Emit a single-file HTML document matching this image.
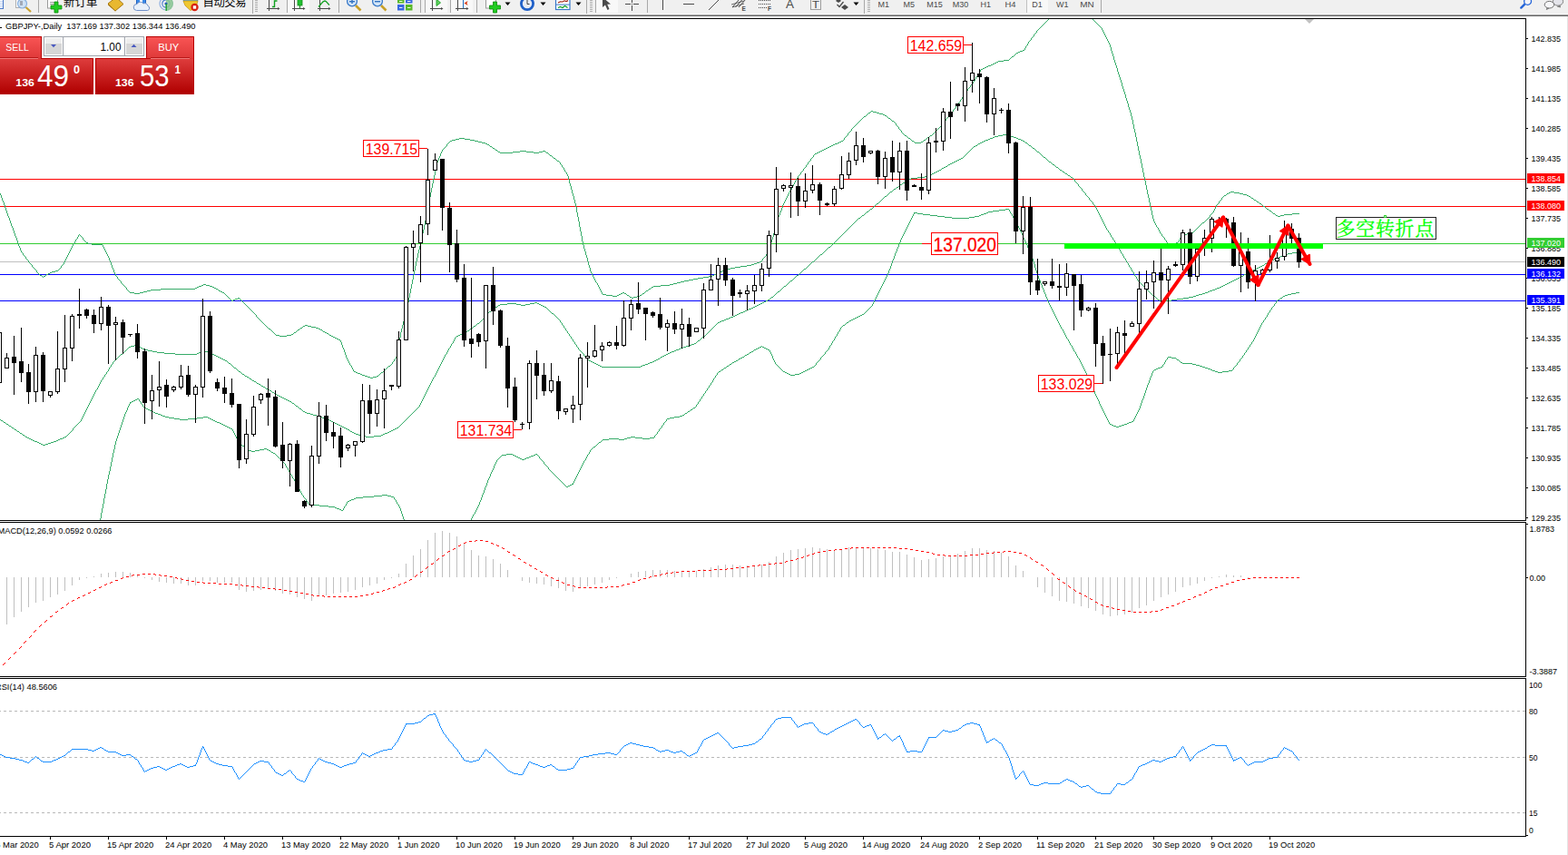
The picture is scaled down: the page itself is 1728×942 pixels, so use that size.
<!DOCTYPE html>
<html><head><meta charset="utf-8"><title>GBPJPY Daily</title>
<style>
html,body{margin:0;padding:0;background:#fff;}
body{width:1728px;height:942px;overflow:hidden;position:relative;font-family:"Liberation Sans",sans-serif;}
#tb{position:absolute;left:0;top:0;width:1728px;height:15px;background:#f0f0f0;}
#tb1{position:absolute;left:0;top:15px;width:1728px;height:1px;background:#f8f8f8;}
#tb2{position:absolute;left:0;top:16px;width:1728px;height:1px;background:#a0a0a0;}
#tb3{position:absolute;left:0;top:17px;width:1728px;height:1px;background:#696969;}
</style></head><body>
<div id="tb"></div><div id="tb1"></div><div id="tb2"></div><div id="tb3"></div>
<svg width="1728" height="942" viewBox="0 0 1728 942" style="position:absolute;left:0;top:0" font-family="Liberation Sans, sans-serif">
<defs>
<clipPath id="cm"><rect x="0" y="21" width="1681" height="552"/></clipPath>
<clipPath id="cd"><rect x="0" y="576" width="1681" height="169"/></clipPath>
<clipPath id="ctb"><rect x="0" y="0" width="1728" height="15"/></clipPath>
<clipPath id="cr"><rect x="0" y="749" width="1681" height="172"/></clipPath>
<linearGradient id="gs" x1="0" y1="0" x2="0" y2="1"><stop offset="0" stop-color="#f85454"/><stop offset="1" stop-color="#de3838"/></linearGradient>
<linearGradient id="gb" x1="0" y1="0" x2="0" y2="1"><stop offset="0" stop-color="#de3c3c"/><stop offset="1" stop-color="#b00000"/></linearGradient>
<linearGradient id="gg" x1="0" y1="0" x2="0" y2="1"><stop offset="0" stop-color="#f2f2f2"/><stop offset="0.5" stop-color="#dcdcdc"/><stop offset="1" stop-color="#c4c4c4"/></linearGradient>
</defs>
<rect x="0" y="20" width="1682" height="1" fill="#000" />
<rect x="1681" y="20" width="1" height="554" fill="#000" />
<rect x="0" y="573" width="1682" height="1" fill="#000" />
<rect x="0" y="575" width="1682" height="1" fill="#000" />
<rect x="1681" y="575" width="1" height="171" fill="#000" />
<rect x="0" y="745" width="1682" height="1" fill="#000" />
<rect x="0" y="747" width="1682" height="1" fill="#000" />
<rect x="1681" y="747" width="1" height="175" fill="#000" />
<rect x="0" y="921" width="1682" height="1" fill="#000" />
<g shape-rendering="crispEdges">
<rect x="0" y="197" width="1681" height="1" fill="#ff0000" />
<rect x="0" y="227" width="1681" height="1" fill="#ff0000" />
<rect x="0" y="268" width="1681" height="1" fill="#32cd32" />
<rect x="0" y="288" width="1681" height="1" fill="#c0c0c0" />
<rect x="0" y="302" width="1681" height="1" fill="#0000ff" />
<rect x="0" y="331" width="1681" height="1" fill="#0000ff" />
</g>
<path d="M0.5 213v2M1.5 215v3M2.5 218v3M3.5 221v2M4.5 223v3M5.5 226v3M6.5 229v3M7.5 232v3M8.5 235v3M9.5 238v2M10.5 240v3M11.5 243v3M12.5 246v3M13.5 249v2M14.5 251v3M15.5 254v3M16.5 257v3M17.5 260v2M18.5 262v3M19.5 265v3M20.5 268v3M21.5 271v2M22.5 273v3M23.5 276v2M24 278.5h1M25.5 279v2M26 281.5h1M27 282.5h1M28.5 283v2M29 285.5h1M30 286.5h1M31.5 287v2M32 289.5h1M33 290.5h1M34 291.5h1M35.5 292v2M36 294.5h1M37 295.5h1M38 296.5h1M39 297.5h1M40.5 298v2M41 300.5h1M42 301.5h1M43 302.5h1M44 303.5h2M46 304.5h1M47 305.5h1M48 304.5h2M50 303.5h1M51 302.5h2M53 301.5h2M55 300.5h2M57 299.5h4M61 298.5h3M64 297.5h1M65 296.5h1M66 295.5h1M67.5 293v2M68 292.5h1M69 291.5h1M70.5 289v2M71.5 287v2M72.5 285v2M73.5 283v2M74.5 281v2M75.5 279v2M76.5 277v2M77.5 275v2M78.5 273v2M79.5 271v2M80.5 269v2M81 268.5h1M82.5 266v2M83.5 264v2M84 263.5h1M85.5 261v2M86.5 259v2M87 258.5h1M88 259.5h1M89 260.5h1M90 261.5h1M91.5 262v2M92 264.5h1M93 265.5h1M94 266.5h1M95 267.5h2M97 268.5h4M101 269.5h12M113.5 270v2M114.5 272v2M115.5 274v2M116.5 276v2M117.5 278v2M118.5 280v2M119.5 282v2M120.5 284v3M121.5 287v2M122.5 289v3M123.5 292v3M124.5 295v2M125.5 297v3M126.5 300v2M127.5 302v2M128 304.5h1M129.5 305v2M130 307.5h1M131 308.5h1M132 309.5h1M133.5 310v2M134 312.5h1M135 313.5h1M136 314.5h1M137 315.5h1M138 316.5h1M139.5 317v2M140 319.5h1M141 320.5h1M142 321.5h1M143 322.5h5M148 323.5h6M154 322.5h4M158 321.5h4M162 320.5h4M166 319.5h11M177 318.5h38M215 317.5h2M217 316.5h2M219 315.5h3M222 314.5h2M224 313.5h3M227 314.5h4M231 315.5h3M234 316.5h2M236 317.5h2M238 318.5h2M240 319.5h1M241 320.5h2M243 321.5h2M245 322.5h2M247 323.5h1M248 324.5h1M249 325.5h1M250 326.5h1M251 327.5h1M252 328.5h1M253 329.5h1M254 330.5h1M255 331.5h2M257 330.5h2M259 329.5h3M262 328.5h2M264 329.5h1M265 330.5h1M266 331.5h1M267 332.5h1M268 333.5h1M269 334.5h1M270 335.5h1M271 336.5h1M272 337.5h1M273 338.5h1M274 339.5h1M275 340.5h1M276 341.5h1M277 342.5h1M278 343.5h1M279 344.5h1M280 345.5h1M281 346.5h1M282.5 347v2M283 349.5h1M284 350.5h1M285 351.5h1M286 352.5h1M287 353.5h1M288 354.5h1M289 355.5h1M290 356.5h1M291 357.5h1M292 358.5h1M293 359.5h1M294 360.5h1M295 361.5h1M296 362.5h2M298 363.5h1M299 364.5h1M300 365.5h1M301 366.5h1M302 367.5h1M303 368.5h1M304 369.5h4M308 370.5h8M316 369.5h5M321 368.5h2M323 367.5h1M324 366.5h2M326 365.5h1M327 364.5h1M328 363.5h2M330 362.5h1M331 361.5h2M333 360.5h1M334 359.5h2M336 358.5h3M339 359.5h4M343 360.5h5M348 361.5h3M351 362.5h2M353 363.5h2M355 364.5h1M356 365.5h2M358 366.5h2M360 367.5h2M362 368.5h1M363 369.5h2M365 370.5h2M367 371.5h2M369 372.5h2M371 373.5h2M373 374.5h2M375.5 375v2M376.5 377v3M377.5 380v3M378.5 383v2M379.5 385v3M380.5 388v3M381.5 391v3M382.5 394v2M383.5 396v2M384.5 398v2M385.5 400v2M386 402.5h1M387.5 403v2M388.5 405v2M389.5 407v2M390 409.5h2M392 410.5h2M394 411.5h3M397 412.5h2M399 413.5h3M402 414.5h3M405 415.5h3M408 416.5h3M411 415.5h4M415 414.5h2M417 413.5h1M418 412.5h1M419 411.5h1M420 410.5h2M422 409.5h1M423 408.5h1M424 407.5h1M425 406.5h1M426 405.5h1M427 404.5h1M428 403.5h2M430 402.5h1M431 401.5h1M432.5 399v2M433 398.5h1M434.5 396v2M435 395.5h1M436.5 393v2M437.5 390v3M438.5 384v6M439.5 378v6M440.5 372v6M441.5 366v6M442.5 362v4M443.5 358v4M444.5 354v4M445.5 350v4M446.5 345v5M447.5 341v4M448.5 337v4M449.5 333v4M450.5 328v5M451.5 323v5M452.5 318v5M453.5 313v5M454.5 308v5M455.5 303v5M456.5 298v5M457.5 293v5M458.5 288v5M459.5 284v4M460.5 279v5M461.5 275v4M462.5 271v4M463.5 266v5M464.5 262v4M465.5 257v5M466.5 253v4M467.5 248v5M468.5 243v5M469.5 238v5M470.5 233v5M471.5 228v5M472.5 222v6M473.5 217v5M474.5 212v5M475.5 207v5M476.5 202v5M477.5 197v5M478.5 193v4M479.5 188v5M480.5 183v5M481.5 179v4M482.5 177v2M483.5 174v3M484.5 172v2M485.5 169v3M486.5 167v2M487.5 165v2M488 164.5h1M489 163.5h1M490 162.5h1M491 161.5h1M492.5 159v2M493 158.5h1M494 157.5h1M495 156.5h1M496 155.5h2M498 154.5h4M502 153.5h4M506 152.5h6M512 153.5h6M518 154.5h5M523 155.5h4M527 156.5h4M531 157.5h4M535 158.5h2M537 159.5h2M539 160.5h1M540 161.5h2M542 162.5h1M543 163.5h2M545 164.5h1M546 165.5h2M548 166.5h1M549 167.5h2M551 168.5h14M565 167.5h8M573 166.5h7M580 167.5h8M588 168.5h6M594 167.5h4M598 166.5h3M601 167.5h1M602 168.5h2M604 169.5h1M605 170.5h1M606 171.5h2M608 172.5h1M609 173.5h1M610 174.5h2M612 175.5h1M613 176.5h1M614 177.5h2M616 178.5h1M617.5 179v2M618 181.5h1M619.5 182v2M620 184.5h1M621.5 185v2M622.5 187v2M623 189.5h1M624.5 190v2M625.5 192v2M626.5 194v4M627.5 198v4M628.5 202v3M629.5 205v4M630.5 209v4M631.5 213v3M632.5 216v4M633.5 220v4M634.5 224v4M635.5 228v6M636.5 234v5M637.5 239v5M638.5 244v6M639.5 250v5M640.5 255v5M641.5 260v6M642.5 266v4M643.5 270v4M644.5 274v3M645.5 277v4M646.5 281v3M647.5 284v4M648.5 288v4M649.5 292v3M650.5 295v4M651.5 299v2M652.5 301v2M653.5 303v2M654.5 305v2M655.5 307v2M656.5 309v2M657 311.5h1M658.5 312v2M659.5 314v2M660.5 316v2M661.5 318v2M662.5 320v2M663.5 322v2M664 324.5h4M668 325.5h7M675 326.5h5M680 325.5h2M682 324.5h2M684 323.5h2M686 322.5h2M688 323.5h2M690 324.5h1M691 325.5h2M693 326.5h1M694 327.5h2M696 328.5h2M698 327.5h4M702 326.5h3M705 325.5h2M707 324.5h1M708 323.5h2M710 322.5h1M711 321.5h1M712 320.5h2M714 319.5h1M715 318.5h2M717 317.5h1M718 316.5h2M720 315.5h8M728 314.5h10M738 313.5h4M742 312.5h4M746 311.5h4M750 310.5h4M754 309.5h5M759 308.5h5M764 307.5h5M769 306.5h6M775 305.5h6M781 304.5h4M785 303.5h2M787 302.5h2M789 301.5h2M791 300.5h2M793 299.5h3M796 298.5h3M799 297.5h3M802 296.5h3M805 295.5h5M810 294.5h6M816 293.5h7M823 292.5h5M828 291.5h3M831 290.5h3M834 289.5h3M837 288.5h2M839 287.5h1M840.5 285v2M841 284.5h1M842 283.5h1M843 282.5h1M844.5 280v2M845 279.5h1M846.5 277v2M847.5 274v3M848.5 271v3M849.5 267v4M850.5 264v3M851.5 261v3M852.5 257v4M853.5 253v4M854.5 250v3M855.5 246v4M856.5 242v4M857.5 239v3M858.5 237v2M859.5 234v3M860.5 232v2M861.5 229v3M862.5 226v3M863.5 224v2M864.5 222v2M865.5 220v2M866.5 218v2M867.5 216v2M868.5 214v2M869.5 212v2M870.5 210v2M871 209.5h1M872.5 207v2M873.5 205v2M874.5 203v2M875.5 201v2M876.5 199v2M877.5 197v2M878 196.5h1M879.5 194v2M880 193.5h1M881 192.5h1M882.5 190v2M883 189.5h1M884 188.5h1M885.5 186v2M886 185.5h1M887 184.5h1M888.5 182v2M889 181.5h1M890.5 179v2M891 178.5h1M892 177.5h1M893.5 175v2M894 174.5h1M895 173.5h1M896.5 171v2M897 170.5h1M898 169.5h2M900 168.5h2M902 167.5h2M904 166.5h2M906 165.5h2M908 164.5h2M910 163.5h2M912 162.5h2M914 161.5h2M916 160.5h2M918 159.5h2M920 158.5h3M923 157.5h2M925 156.5h2M927 155.5h2M929 154.5h1M930.5 152v2M931 151.5h1M932 150.5h1M933 149.5h1M934.5 147v2M935 146.5h1M936 145.5h1M937 144.5h1M938.5 142v2M939 141.5h1M940 140.5h1M941 139.5h1M942 138.5h1M943 137.5h1M944 136.5h1M945 135.5h1M946 134.5h1M947 133.5h1M948 132.5h1M949 131.5h1M950 130.5h1M951 129.5h1M952 128.5h2M954 127.5h1M955 126.5h1M956 125.5h1M957 124.5h2M959 123.5h1M960 122.5h2M962 123.5h4M966 124.5h3M969 125.5h4M973 126.5h2M975 127.5h2M977 128.5h1M978 129.5h1M979 130.5h2M981 131.5h1M982 132.5h1M983 133.5h2M985 134.5h1M986 135.5h1M987.5 136v2M988 138.5h1M989 139.5h1M990.5 140v2M991 142.5h1M992 143.5h1M993.5 144v2M994 146.5h1M995 147.5h1M996 148.5h1M997 149.5h2M999 150.5h1M1000 151.5h1M1001 152.5h2M1003 153.5h1M1004 154.5h1M1005 155.5h2M1007 156.5h1M1008 157.5h7M1015 156.5h2M1017 155.5h1M1018 154.5h2M1020 153.5h1M1021 152.5h1M1022 151.5h2M1024 150.5h1M1025 149.5h2M1027 148.5h1M1028 147.5h1M1029 146.5h1M1030 145.5h1M1031 144.5h1M1032 143.5h1M1033 142.5h1M1034 141.5h1M1035 140.5h1M1036 139.5h1M1037 138.5h1M1038.5 136v2M1039 135.5h1M1040 134.5h1M1041 133.5h1M1042.5 131v2M1043 130.5h1M1044 129.5h1M1045 128.5h1M1046.5 126v2M1047 125.5h1M1048 124.5h1M1049 123.5h1M1050.5 121v2M1051 120.5h1M1052 119.5h1M1053.5 117v2M1054 116.5h1M1055 115.5h1M1056.5 113v2M1057 112.5h1M1058.5 110v2M1059 109.5h1M1060.5 107v2M1061.5 105v2M1062 104.5h1M1063.5 102v2M1064 101.5h1M1065 100.5h1M1066.5 98v2M1067 97.5h1M1068 96.5h1M1069.5 94v2M1070 93.5h1M1071 92.5h1M1072.5 90v2M1073 89.5h1M1074.5 87v2M1075.5 85v2M1076 84.5h1M1077.5 82v2M1078 81.5h1M1079.5 79v2M1080.5 77v2M1081 76.5h2M1083 75.5h2M1085 74.5h2M1087 73.5h2M1089 72.5h3M1092 71.5h2M1094 70.5h2M1096 69.5h2M1098 68.5h2M1100 67.5h6M1106 66.5h6M1112 65.5h1M1113 64.5h1M1114 63.5h1M1115 62.5h2M1117 61.5h1M1118 60.5h1M1119 59.5h1M1120 58.5h2M1122 57.5h2M1124 56.5h3M1127 55.5h2M1129.5 53v2M1130.5 51v2M1131 50.5h1M1132.5 48v2M1133.5 46v2M1134 45.5h1M1135 44.5h1M1136.5 42v2M1137 41.5h1M1138 40.5h1M1139.5 38v2M1140 37.5h1M1141 36.5h1M1142.5 34v2M1143 33.5h1M1144 32.5h1M1145 31.5h1M1146 30.5h1M1147 29.5h1M1148 28.5h1M1149 27.5h1M1150 26.5h1M1151 25.5h1M1152 24.5h1M1153 23.5h1M1154 22.5h1M1155 21.5h1M1204 21.5h1M1205 22.5h1M1206 23.5h1M1207 24.5h1M1208 25.5h1M1209 26.5h1M1210 27.5h1M1211 28.5h1M1212 29.5h1M1213 30.5h1M1214.5 31v2M1215.5 33v2M1216.5 35v2M1217.5 37v2M1218.5 39v2M1219.5 41v2M1220.5 43v2M1221.5 45v2M1222.5 47v2M1223.5 49v3M1224.5 52v4M1225.5 56v3M1226.5 59v3M1227.5 62v4M1228.5 66v3M1229.5 69v3M1230.5 72v3M1231.5 75v4M1232.5 79v3M1233.5 82v3M1234.5 85v3M1235.5 88v3M1236.5 91v4M1237.5 95v3M1238.5 98v3M1239.5 101v3M1240.5 104v4M1241.5 108v3M1242.5 111v3M1243.5 114v4M1244.5 118v3M1245.5 121v3M1246.5 124v4M1247.5 128v4M1248.5 132v5M1249.5 137v5M1250.5 142v4M1251.5 146v5M1252.5 151v5M1253.5 156v5M1254.5 161v5M1255.5 166v5M1256.5 171v4M1257.5 175v5M1258.5 180v5M1259.5 185v5M1260.5 190v5M1261.5 195v4M1262.5 199v5M1263.5 204v5M1264.5 209v5M1265.5 214v4M1266.5 218v5M1267.5 223v5M1268.5 228v4M1269.5 232v5M1270.5 237v4M1271.5 241v3M1272.5 244v2M1273.5 246v2M1274.5 248v2M1275 250.5h1M1276.5 251v2M1277.5 253v2M1278.5 255v2M1279 257.5h1M1280.5 258v2M1281 260.5h1M1282 261.5h1M1283.5 262v2M1284 264.5h1M1285.5 265v2M1286 267.5h1M1287 268.5h2M1289 269.5h2M1291 270.5h1M1292 269.5h2M1294 268.5h2M1296 267.5h2M1298 266.5h1M1299.5 264v2M1300.5 262v2M1301 261.5h2M1303 260.5h1M1304 259.5h2M1306 258.5h2M1308 257.5h4M1312 256.5h3M1315 255.5h1M1316 254.5h1M1317 253.5h1M1318 252.5h1M1319 251.5h1M1320 250.5h1M1321 249.5h1M1322 248.5h1M1323 247.5h1M1324 246.5h1M1325 245.5h2M1327 244.5h1M1328 243.5h1M1329 242.5h1M1330 241.5h1M1331 240.5h1M1332 239.5h1M1333.5 237v2M1334 236.5h1M1335 235.5h1M1336 234.5h1M1337.5 232v2M1338.5 230v2M1339.5 228v2M1340.5 226v2M1341 225.5h1M1342 224.5h1M1343.5 222v2M1344 221.5h1M1345 220.5h1M1346.5 218v2M1347 217.5h1M1348 216.5h1M1349 215.5h2M1351 214.5h1M1352 213.5h2M1354 212.5h2M1356 211.5h4M1360 212.5h6M1366 213.5h4M1370 214.5h4M1374 215.5h2M1376 216.5h2M1378 217.5h1M1379 218.5h2M1381 219.5h1M1382 220.5h2M1384 221.5h1M1385 222.5h2M1387 223.5h1M1388 224.5h2M1390 225.5h1M1391 226.5h1M1392 227.5h2M1394 228.5h1M1395 229.5h1M1396 230.5h2M1398 231.5h1M1399 232.5h2M1401 233.5h1M1402 234.5h1M1403 235.5h2M1405 236.5h1M1406 237.5h2M1408 238.5h3M1411 237.5h4M1415 236.5h9M1424 235.5h8" fill="none" stroke="#35ab68" stroke-width="1" shape-rendering="crispEdges"/>
<path d="M0 462.5h1M1 463.5h2M3 464.5h1M4 465.5h2M6 466.5h1M7 467.5h2M9 468.5h1M10 469.5h2M12 470.5h1M13 471.5h2M15 472.5h1M16 473.5h2M18 474.5h1M19 475.5h2M21 476.5h1M22 477.5h2M24 478.5h1M25 479.5h2M27 480.5h1M28 481.5h2M30 482.5h2M32 483.5h2M34 484.5h2M36 485.5h2M38 486.5h3M41 487.5h2M43 488.5h2M45 489.5h2M47 490.5h3M50 489.5h3M53 488.5h3M56 487.5h3M59 486.5h3M62 485.5h2M64 484.5h2M66 483.5h3M69 482.5h2M71 481.5h2M73 480.5h1M74 479.5h1M75 478.5h1M76 477.5h1M77 476.5h1M78 475.5h1M79 474.5h1M80.5 472v2M81 471.5h1M82 470.5h1M83 469.5h1M84 468.5h1M85 467.5h1M86 466.5h1M87 465.5h1M88 464.5h1M89.5 462v2M90.5 460v2M91.5 458v2M92.5 456v2M93.5 454v2M94.5 452v2M95.5 450v2M96.5 448v2M97.5 446v2M98.5 444v2M99.5 442v2M100.5 440v2M101.5 438v2M102.5 436v2M103.5 434v2M104.5 432v2M105.5 430v2M106 429.5h1M107.5 427v2M108.5 425v2M109.5 423v2M110.5 421v2M111.5 419v2M112 418.5h1M113.5 416v2M114 415.5h1M115.5 413v2M116 412.5h1M117.5 410v2M118 409.5h1M119.5 407v2M120.5 405v2M121 404.5h1M122.5 402v2M123 401.5h1M124.5 399v2M125 398.5h1M126 397.5h1M127 396.5h1M128 395.5h1M129 394.5h1M130 393.5h1M131 392.5h1M132 391.5h1M133 390.5h2M135 389.5h1M136 388.5h1M137 387.5h1M138 386.5h1M139 385.5h1M140 384.5h1M141 383.5h1M142 382.5h2M144 381.5h4M148 380.5h3M151 381.5h2M153 382.5h2M155 383.5h2M157 384.5h2M159 385.5h4M163 386.5h5M168 387.5h5M173 388.5h8M181 389.5h12M193 390.5h24M217 389.5h2M219 388.5h2M221 387.5h2M223 386.5h3M226 387.5h3M229 388.5h2M231 389.5h3M234 390.5h2M236 391.5h2M238 392.5h2M240 393.5h2M242 394.5h2M244 395.5h2M246 396.5h2M248 397.5h2M250 398.5h1M251 399.5h1M252 400.5h2M254 401.5h1M255 402.5h1M256 403.5h1M257 404.5h1M258 405.5h2M260 406.5h1M261 407.5h1M262 408.5h1M263 409.5h2M265 410.5h1M266 411.5h1M267 412.5h2M269 413.5h1M270 414.5h2M272 415.5h2M274 416.5h1M275 417.5h2M277 418.5h1M278 419.5h2M280 420.5h2M282 421.5h1M283 422.5h2M285 423.5h2M287 424.5h1M288 425.5h2M290 426.5h2M292 427.5h1M293 428.5h2M295 429.5h2M297 430.5h2M299 431.5h1M300 432.5h2M302 433.5h2M304 434.5h1M305 435.5h2M307 436.5h2M309 437.5h2M311 438.5h2M313 439.5h2M315 440.5h2M317 441.5h2M319 442.5h2M321 443.5h1M322 444.5h2M324 445.5h1M325 446.5h1M326 447.5h2M328 448.5h1M329 449.5h1M330 450.5h2M332 451.5h1M333 452.5h1M334 453.5h2M336 454.5h2M338 455.5h4M342 456.5h3M345 457.5h4M349 458.5h3M352 459.5h3M355 460.5h3M358 461.5h3M361 462.5h2M363 463.5h2M365 464.5h2M367 465.5h2M369 466.5h2M371 467.5h2M373 468.5h2M375 469.5h2M377 470.5h2M379 471.5h2M381 472.5h2M383 473.5h2M385 474.5h1M386 475.5h2M388 476.5h2M390 477.5h2M392 478.5h3M395 479.5h4M399 480.5h4M403 481.5h9M412 480.5h8M420 479.5h2M422 478.5h2M424 477.5h3M427 476.5h2M429 475.5h2M431 474.5h2M433 473.5h2M435 472.5h2M437 471.5h2M439 470.5h1M440 469.5h1M441 468.5h1M442 467.5h1M443 466.5h1M444 465.5h1M445 464.5h1M446 463.5h1M447 462.5h1M448 461.5h1M449 460.5h1M450 459.5h1M451 458.5h1M452 457.5h1M453 456.5h1M454 455.5h1M455 454.5h1M456 453.5h1M457 452.5h1M458 451.5h1M459 450.5h1M460 449.5h1M461 448.5h1M462.5 446v2M463.5 444v2M464.5 442v2M465.5 440v2M466.5 438v2M467.5 436v2M468.5 434v2M469.5 432v2M470.5 430v2M471.5 428v2M472.5 426v2M473.5 424v2M474.5 422v2M475.5 420v2M476.5 418v2M477.5 416v2M478 415.5h1M479.5 413v2M480.5 411v2M481.5 409v2M482.5 407v2M483.5 405v2M484.5 403v2M485.5 401v2M486.5 399v2M487.5 397v2M488.5 395v2M489.5 393v2M490.5 391v2M491 390.5h1M492.5 388v2M493.5 386v2M494.5 384v2M495 383.5h1M496.5 381v2M497.5 379v2M498 378.5h1M499.5 376v2M500.5 374v2M501.5 372v2M502 371.5h1M503 370.5h2M505 369.5h2M507 368.5h2M509 367.5h2M511 366.5h2M513 365.5h2M515 364.5h2M517 363.5h1M518 362.5h2M520 361.5h1M521 360.5h1M522 359.5h2M524 358.5h1M525 357.5h1M526 356.5h2M528 355.5h1M529 354.5h1M530 353.5h1M531 352.5h1M532 351.5h1M533.5 349v2M534 348.5h1M535 347.5h1M536 346.5h1M537 345.5h1M538 344.5h1M539 343.5h2M541 342.5h1M542 341.5h2M544 340.5h1M545 339.5h1M546 338.5h2M548 337.5h1M549 336.5h2M551 335.5h8M559 334.5h10M569 335.5h5M574 336.5h5M579 335.5h5M584 334.5h5M589 333.5h3M592 334.5h2M594 335.5h2M596 336.5h2M598 337.5h2M600 338.5h2M602 339.5h1M603 340.5h1M604 341.5h1M605 342.5h1M606 343.5h1M607 344.5h1M608 345.5h2M610 346.5h1M611 347.5h1M612 348.5h1M613 349.5h1M614 350.5h1M615 351.5h1M616 352.5h1M617.5 353v2M618 355.5h1M619.5 356v2M620 358.5h1M621.5 359v2M622 361.5h1M623.5 362v2M624 364.5h1M625.5 365v2M626 367.5h1M627.5 368v2M628 370.5h1M629.5 371v2M630 373.5h1M631.5 374v2M632 376.5h1M633.5 377v2M634 379.5h1M635.5 380v2M636 382.5h1M637.5 383v2M638 385.5h1M639 386.5h1M640 387.5h1M641 388.5h1M642 389.5h1M643.5 390v2M644 392.5h1M645 393.5h1M646 394.5h1M647 395.5h1M648 396.5h1M649 397.5h2M651 398.5h2M653 399.5h2M655 400.5h2M657 401.5h2M659 402.5h2M661 403.5h2M663 404.5h43M706 403.5h2M708 402.5h3M711 401.5h3M714 400.5h2M716 399.5h3M719 398.5h2M721 397.5h2M723 396.5h2M725 395.5h2M727 394.5h1M728 393.5h2M730 392.5h2M732 391.5h2M734 390.5h2M736 389.5h2M738 388.5h2M740 387.5h3M743 386.5h2M745 385.5h3M748 384.5h2M750 383.5h3M753 382.5h3M756 381.5h3M759 380.5h3M762 379.5h3M765 378.5h2M767 377.5h1M768 376.5h1M769 375.5h2M771 374.5h1M772 373.5h1M773 372.5h1M774 371.5h1M775 370.5h2M777 369.5h1M778 368.5h1M779 367.5h1M780 366.5h1M781 365.5h1M782 364.5h1M783 363.5h1M784 362.5h1M785 361.5h1M786 360.5h1M787 359.5h1M788 358.5h1M789 357.5h1M790 356.5h1M791 355.5h2M793 354.5h2M795 353.5h3M798 352.5h2M800 351.5h3M803 350.5h2M805 349.5h3M808 348.5h2M810 347.5h2M812 346.5h2M814 345.5h2M816 344.5h3M819 343.5h2M821 342.5h2M823 341.5h2M825 340.5h3M828 339.5h2M830 338.5h2M832 337.5h2M834 336.5h2M836 335.5h2M838 334.5h2M840 333.5h2M842 332.5h2M844 331.5h2M846 330.5h2M848 329.5h1M849 328.5h1M850 327.5h2M852 326.5h1M853 325.5h1M854 324.5h1M855 323.5h1M856 322.5h1M857 321.5h2M859 320.5h1M860 319.5h1M861 318.5h1M862 317.5h1M863 316.5h1M864 315.5h2M866 314.5h1M867 313.5h1M868 312.5h1M869 311.5h1M870 310.5h1M871 309.5h2M873 308.5h1M874 307.5h1M875 306.5h1M876 305.5h1M877 304.5h1M878 303.5h2M880 302.5h1M881 301.5h1M882 300.5h1M883 299.5h1M884 298.5h1M885 297.5h1M886 296.5h2M888 295.5h1M889 294.5h1M890 293.5h1M891 292.5h1M892 291.5h1M893 290.5h1M894 289.5h1M895 288.5h2M897 287.5h1M898 286.5h1M899 285.5h1M900 284.5h1M901 283.5h1M902 282.5h1M903 281.5h1M904 280.5h2M906 279.5h1M907 278.5h1M908 277.5h1M909 276.5h1M910 275.5h1M911 274.5h1M912 273.5h1M913 272.5h2M915 271.5h1M916 270.5h1M917 269.5h1M918 268.5h1M919 267.5h1M920 266.5h1M921 265.5h1M922 264.5h1M923 263.5h1M924 262.5h1M925 261.5h1M926 260.5h1M927 259.5h1M928 258.5h1M929 257.5h1M930 256.5h1M931 255.5h1M932 254.5h1M933 253.5h1M934 252.5h1M935 251.5h1M936 250.5h1M937 249.5h1M938 248.5h1M939 247.5h1M940 246.5h1M941 245.5h1M942 244.5h1M943 243.5h1M944 242.5h1M945 241.5h1M946 240.5h2M948 239.5h1M949 238.5h1M950 237.5h2M952 236.5h1M953 235.5h1M954 234.5h1M955 233.5h2M957 232.5h1M958 231.5h1M959 230.5h2M961 229.5h1M962 228.5h1M963 227.5h1M964 226.5h1M965 225.5h1M966 224.5h2M968 223.5h1M969 222.5h1M970 221.5h1M971 220.5h1M972 219.5h1M973 218.5h1M974 217.5h1M975 216.5h2M977 215.5h1M978 214.5h1M979 213.5h1M980 212.5h1M981 211.5h2M983 210.5h1M984 209.5h1M985 208.5h2M987 207.5h1M988 206.5h2M990 205.5h1M991 204.5h1M992 203.5h2M994 202.5h1M995 201.5h2M997 200.5h2M999 199.5h1M1000 198.5h2M1002 197.5h2M1004 196.5h7M1011 195.5h8M1019 194.5h2M1021 193.5h3M1024 192.5h3M1027 191.5h2M1029 190.5h2M1031 189.5h2M1033 188.5h2M1035 187.5h2M1037 186.5h1M1038 185.5h2M1040 184.5h2M1042 183.5h2M1044 182.5h1M1045 181.5h2M1047 180.5h2M1049 179.5h2M1051 178.5h2M1053 177.5h2M1055 176.5h2M1057 175.5h2M1059 174.5h2M1061 173.5h1M1062 172.5h1M1063 171.5h1M1064 170.5h1M1065 169.5h1M1066 168.5h1M1067 167.5h1M1068 166.5h1M1069 165.5h1M1070 164.5h1M1071 163.5h1M1072 162.5h1M1073 161.5h2M1075 160.5h2M1077 159.5h1M1078 158.5h2M1080 157.5h2M1082 156.5h2M1084 155.5h2M1086 154.5h3M1089 153.5h2M1091 152.5h3M1094 151.5h2M1096 150.5h4M1100 149.5h5M1105 148.5h4M1109 149.5h4M1113 150.5h4M1117 151.5h3M1120 152.5h2M1122 153.5h3M1125 154.5h2M1127 155.5h2M1129 156.5h1M1130 157.5h2M1132 158.5h1M1133 159.5h1M1134 160.5h2M1136 161.5h1M1137 162.5h1M1138 163.5h2M1140 164.5h1M1141 165.5h1M1142 166.5h1M1143 167.5h2M1145 168.5h1M1146 169.5h1M1147 170.5h1M1148 171.5h1M1149 172.5h1M1150 173.5h2M1152 174.5h1M1153 175.5h1M1154 176.5h1M1155 177.5h1M1156 178.5h2M1158 179.5h1M1159 180.5h1M1160 181.5h2M1162 182.5h1M1163 183.5h1M1164 184.5h2M1166 185.5h1M1167 186.5h1M1168 187.5h2M1170 188.5h1M1171 189.5h2M1173 190.5h1M1174 191.5h2M1176 192.5h1M1177 193.5h2M1179 194.5h1M1180 195.5h2M1182 196.5h1M1183 197.5h1M1184.5 198v2M1185 200.5h1M1186 201.5h1M1187 202.5h1M1188.5 203v2M1189 205.5h1M1190 206.5h1M1191 207.5h1M1192.5 208v2M1193 210.5h1M1194 211.5h1M1195 212.5h1M1196.5 213v2M1197 215.5h1M1198 216.5h1M1199 217.5h1M1200.5 218v2M1201 220.5h1M1202 221.5h1M1203 222.5h1M1204.5 223v2M1205 225.5h1M1206 226.5h1M1207.5 227v2M1208.5 229v2M1209.5 231v2M1210.5 233v2M1211.5 235v2M1212.5 237v2M1213.5 239v2M1214.5 241v2M1215.5 243v2M1216.5 245v2M1217.5 247v2M1218.5 249v2M1219.5 251v2M1220 253.5h1M1221.5 254v2M1222 256.5h1M1223.5 257v2M1224.5 259v2M1225 261.5h1M1226.5 262v2M1227 264.5h1M1228.5 265v2M1229.5 267v2M1230 269.5h1M1231.5 270v2M1232.5 272v2M1233 274.5h1M1234.5 275v2M1235.5 277v2M1236 279.5h1M1237.5 280v2M1238.5 282v2M1239 284.5h1M1240.5 285v2M1241.5 287v2M1242 289.5h1M1243.5 290v2M1244.5 292v2M1245 294.5h1M1246.5 295v2M1247.5 297v2M1248 299.5h1M1249.5 300v2M1250.5 302v2M1251 304.5h1M1252.5 305v2M1253.5 307v2M1254 309.5h1M1255 310.5h1M1256 311.5h1M1257 312.5h1M1258 313.5h1M1259 314.5h1M1260 315.5h1M1261 316.5h1M1262 317.5h1M1263 318.5h1M1264 319.5h1M1265 320.5h1M1266 321.5h1M1267 322.5h1M1268 323.5h1M1269 324.5h1M1270 325.5h2M1272 326.5h1M1273 327.5h1M1274 328.5h1M1275 329.5h1M1276 330.5h2M1278 331.5h1M1279 332.5h5M1284 331.5h7M1291 330.5h6M1297 329.5h7M1304 328.5h6M1310 327.5h5M1315 326.5h3M1318 325.5h3M1321 324.5h4M1325 323.5h3M1328 322.5h3M1331 321.5h2M1333 320.5h3M1336 319.5h3M1339 318.5h2M1341 317.5h3M1344 316.5h2M1346 315.5h2M1348 314.5h2M1350 313.5h2M1352 312.5h2M1354 311.5h2M1356 310.5h2M1358 309.5h2M1360 308.5h2M1362 307.5h2M1364 306.5h2M1366 305.5h2M1368 304.5h2M1370 303.5h1M1371 302.5h2M1373 301.5h2M1375 300.5h2M1377 299.5h2M1379 298.5h2M1381 297.5h2M1383 296.5h2M1385 295.5h2M1387 294.5h2M1389 293.5h2M1391 292.5h2M1393 291.5h1M1394 290.5h2M1396 289.5h2M1398 288.5h2M1400 287.5h2M1402 286.5h2M1404 285.5h3M1407 284.5h2M1409 283.5h2M1411 282.5h2M1413 281.5h2M1415 280.5h4M1419 279.5h5M1424 278.5h5M1429 277.5h3" fill="none" stroke="#35ab68" stroke-width="1" shape-rendering="crispEdges"/>
<path d="M110.5 571v2M111.5 565v6M112.5 560v5M113.5 555v5M114.5 549v6M115.5 544v5M116.5 539v5M117.5 533v6M118.5 528v5M119.5 523v5M120.5 519v4M121.5 514v5M122.5 509v5M123.5 504v5M124.5 499v5M125.5 495v4M126.5 490v5M127.5 486v4M128.5 483v3M129.5 480v3M130.5 477v3M131.5 474v3M132.5 471v3M133.5 468v3M134.5 465v3M135.5 462v3M136.5 459v3M137.5 456v3M138.5 454v2M139.5 452v2M140.5 449v3M141.5 447v2M142.5 445v2M143.5 443v2M144 443.5h1M145 442.5h2M147 441.5h2M149 440.5h2M151 439.5h2M153.5 440v2M154 442.5h1M155.5 443v2M156 445.5h1M157.5 446v2M158 448.5h1M159 449.5h2M161 450.5h2M163 451.5h2M165 452.5h2M167 453.5h2M169 454.5h2M171 455.5h3M174 456.5h3M177 457.5h2M179 458.5h3M182 459.5h4M186 460.5h6M192 461.5h6M198 462.5h9M207 461.5h10M217 460.5h7M224 459.5h5M229 460.5h2M231 461.5h2M233 462.5h2M235 463.5h2M237 464.5h2M239 465.5h3M242 466.5h2M244 467.5h2M246 468.5h2M248 469.5h2M250 470.5h2M252 471.5h2M254 472.5h2M256.5 473v2M257.5 475v2M258.5 477v2M259.5 479v2M260.5 481v2M261.5 483v2M262.5 485v2M263 487.5h1M264 488.5h1M265 489.5h1M266 490.5h1M267 491.5h2M269 492.5h1M270 493.5h1M271 494.5h1M272 495.5h2M274 496.5h3M277 497.5h4M281 496.5h5M286 495.5h5M291 494.5h3M294 495.5h2M296 496.5h2M298 497.5h1M299 498.5h2M301 499.5h2M303 500.5h1M304 501.5h1M305 502.5h1M306 503.5h1M307 504.5h1M308 505.5h1M309 506.5h1M310 507.5h1M311 508.5h1M312 509.5h1M313 510.5h1M314.5 511v2M315.5 513v2M316 515.5h1M317.5 516v2M318.5 518v2M319.5 520v2M320 522.5h1M321.5 523v2M322.5 525v2M323 527.5h1M324.5 528v2M325.5 530v2M326.5 532v2M327.5 534v2M328 536.5h1M329.5 537v2M330.5 539v2M331.5 541v2M332.5 543v2M333 545.5h1M334.5 546v2M335 548.5h1M336 549.5h1M337.5 550v2M338 552.5h1M339.5 553v2M340 555.5h4M344 556.5h8M352 557.5h10M362 558.5h7M369 559.5h2M371 560.5h3M374 561.5h2M376 562.5h2M378.5 560v2M379.5 558v2M380 557.5h1M381.5 555v2M382.5 553v2M383 552.5h2M385 551.5h2M387 550.5h3M390 549.5h2M392 548.5h8M400 547.5h12M412 546.5h9M421 545.5h6M427 546.5h4M431 547.5h3M434.5 548v2M435 550.5h1M436.5 551v2M437.5 553v2M438 555.5h1M439.5 556v2M440.5 558v2M441.5 560v3M442.5 563v3M443.5 566v3M444.5 569v3M445 572.5h1" fill="none" stroke="#35ab68" stroke-width="1" shape-rendering="crispEdges"/>
<path d="M519.5 571v2M520.5 569v2M521.5 567v2M522 566.5h1M523.5 564v2M524.5 562v2M525.5 560v2M526.5 558v2M527.5 556v2M528.5 553v3M529.5 551v2M530.5 548v3M531.5 545v3M532.5 543v2M533.5 540v3M534.5 537v3M535.5 535v2M536.5 532v3M537.5 529v3M538.5 527v2M539.5 525v2M540.5 522v3M541.5 520v2M542.5 518v2M543.5 516v2M544.5 513v3M545.5 511v2M546.5 509v2M547.5 507v2M548 506.5h1M549 505.5h1M550 504.5h1M551 503.5h1M552 502.5h1M553 501.5h5M558 500.5h7M565 501.5h2M567 502.5h2M569 503.5h2M571 504.5h2M573 505.5h2M575 506.5h3M578 505.5h2M580 504.5h3M583 503.5h2M585 502.5h3M588 501.5h2M590 500.5h2M592 501.5h1M593 502.5h1M594.5 503v2M595 505.5h1M596 506.5h1M597 507.5h1M598 508.5h1M599.5 509v2M600 511.5h1M601 512.5h1M602 513.5h1M603 514.5h1M604.5 515v2M605 517.5h1M606 518.5h1M607 519.5h1M608 520.5h1M609 521.5h1M610 522.5h1M611 523.5h1M612 524.5h1M613 525.5h1M614 526.5h1M615 527.5h1M616 528.5h1M617 529.5h1M618 530.5h1M619 531.5h1M620 532.5h1M621 533.5h1M622 534.5h1M623 535.5h1M624 536.5h2M626 535.5h2M628 534.5h2M630 533.5h2M631 532.5h1M632.5 530v2M633.5 528v2M634.5 526v2M635.5 524v2M636.5 522v2M637.5 520v2M638.5 518v2M639.5 516v2M640.5 514v2M641.5 512v2M642.5 510v2M643.5 508v2M644 507.5h1M645.5 505v2M646.5 503v2M647.5 501v2M648 500.5h1M649.5 498v2M650.5 496v2M651 495.5h1M652 494.5h1M653 493.5h1M654 492.5h2M656 491.5h1M657 490.5h1M658 489.5h1M659 488.5h1M660 487.5h2M662 486.5h1M663 485.5h1M664 484.5h7M671 483.5h11M682 484.5h6M688 483.5h3M691 482.5h4M695 481.5h5M700 482.5h8M708 483.5h8M716 482.5h5M721.5 480v2M722 479.5h1M723 478.5h1M724.5 476v2M725 475.5h1M726.5 473v2M727 472.5h1M728 471.5h1M729.5 469v2M730 468.5h1M731.5 466v2M732 465.5h1M733 464.5h1M734.5 462v2M735 461.5h3M738 460.5h5M743 459.5h6M749 458.5h3M752 457.5h2M754 456.5h1M755 455.5h2M757 454.5h1M758 453.5h2M760 452.5h1M761 451.5h2M763 450.5h1M764 449.5h2M766 448.5h1M767.5 446v2M768 445.5h1M769.5 443v2M770 442.5h1M771.5 440v2M772 439.5h1M773.5 437v2M774 436.5h1M775.5 434v2M776 433.5h1M777.5 431v2M778 430.5h1M779.5 428v2M780 427.5h1M781.5 425v2M782 424.5h1M783.5 422v2M784 421.5h1M785.5 419v2M786.5 417v2M787 416.5h1M788.5 414v2M789 413.5h1M790.5 411v2M791 410.5h1M792 409.5h2M794 408.5h1M795 407.5h2M797 406.5h1M798 405.5h2M800 404.5h1M801 403.5h2M803 402.5h1M804 401.5h2M806 400.5h1M807 399.5h2M809 398.5h2M811 397.5h2M813 396.5h1M814 395.5h2M816 394.5h2M818 393.5h2M820 392.5h1M821 391.5h2M823 390.5h2M825 389.5h1M826 388.5h2M828 387.5h2M830 386.5h1M831 385.5h2M833 384.5h2M835 383.5h2M837 382.5h2M839 381.5h1M840 382.5h2M842 383.5h2M844 384.5h2M846 385.5h2M848.5 386v2M849.5 388v2M850.5 390v2M851.5 392v3M852.5 395v2M853.5 397v2M854.5 399v2M855 401.5h1M856 402.5h1M857 403.5h1M858 404.5h1M859 405.5h1M860 406.5h1M861 407.5h1M862 408.5h1M863 409.5h2M865 410.5h2M867 411.5h2M869 412.5h2M871 413.5h5M876 412.5h5M881 411.5h2M883 410.5h2M885 409.5h2M887 408.5h2M889 407.5h2M891 406.5h2M893 405.5h2M895 404.5h2M897 403.5h1M898 402.5h1M899.5 400v2M900 399.5h1M901 398.5h1M902 397.5h1M903 396.5h1M904.5 394v2M905 393.5h1M906 392.5h1M907 391.5h1M908 390.5h1M909.5 388v2M910 387.5h1M911 386.5h1M912 385.5h1M913.5 383v2M914.5 381v2M915 380.5h1M916.5 378v2M917.5 376v2M918 375.5h1M919.5 373v2M920.5 371v2M921 370.5h1M922.5 368v2M923.5 366v2M924 365.5h1M925.5 363v2M926.5 361v2M927 360.5h1M928 359.5h1M929 358.5h2M931 357.5h1M932 356.5h1M933 355.5h2M935 354.5h1M936 353.5h2M938 352.5h2M940 351.5h2M942 350.5h2M944 349.5h2M946 348.5h2M948 347.5h2M950 346.5h2M952 345.5h1M953 344.5h1M954 343.5h1M955 342.5h1M956 341.5h1M957 340.5h1M958 339.5h1M959 338.5h1M960 337.5h1M961.5 335v2M962.5 333v2M963.5 331v2M964.5 329v2M965.5 327v2M966.5 325v2M967.5 323v2M968.5 321v2M969.5 319v2M970.5 317v2M971.5 315v2M972.5 313v2M973.5 311v2M974.5 309v2M975.5 307v2M976.5 305v2M977.5 303v2M978.5 301v2M979.5 298v3M980.5 296v2M981.5 293v3M982.5 290v3M983.5 287v3M984.5 285v2M985.5 282v3M986.5 279v3M987.5 277v2M988.5 274v3M989.5 272v2M990.5 269v3M991.5 267v2M992.5 264v3M993.5 262v2M994.5 260v2M995.5 258v2M996.5 256v2M997.5 254v2M998.5 252v2M999.5 250v2M1000.5 248v2M1001.5 246v2M1002.5 244v2M1003.5 242v2M1004.5 240v2M1005.5 238v2M1006.5 236v2M1007.5 234v2M1008 234.5h3M1011 235.5h6M1017 236.5h8M1025 237.5h8M1033 238.5h8M1041 239.5h8M1049 240.5h19M1068 239.5h6M1074 238.5h5M1079 237.5h2M1081 236.5h3M1084 235.5h3M1087 234.5h2M1089 233.5h5M1094 232.5h7M1101 231.5h7M1108 230.5h4M1112.5 231v2M1113.5 233v2M1114 235.5h1M1115.5 236v2M1116.5 238v2M1117 240.5h1M1118.5 241v2M1119.5 243v2M1120.5 245v2M1121.5 247v2M1122.5 249v2M1123.5 251v2M1124.5 253v2M1125.5 255v2M1126.5 257v2M1127.5 259v3M1128.5 262v2M1129.5 264v2M1130.5 266v2M1131.5 268v2M1132.5 270v3M1133.5 273v2M1134.5 275v2M1135.5 277v2M1136.5 279v3M1137.5 282v3M1138.5 285v3M1139.5 288v3M1140.5 291v4M1141.5 295v3M1142.5 298v3M1143.5 301v3M1144.5 304v3M1145.5 307v2M1146.5 309v3M1147.5 312v2M1148.5 314v3M1149.5 317v2M1150.5 319v3M1151.5 322v2M1152.5 324v3M1153.5 327v2M1154.5 329v3M1155.5 332v2M1156.5 334v2M1157.5 336v2M1158.5 338v2M1159.5 340v2M1160.5 342v2M1161.5 344v2M1162.5 346v2M1163.5 348v2M1164.5 350v2M1165.5 352v2M1166.5 354v2M1167.5 356v2M1168.5 358v2M1169.5 360v2M1170 362.5h1M1171.5 363v2M1172.5 365v2M1173.5 367v2M1174.5 369v2M1175.5 371v2M1176 373.5h1M1177.5 374v2M1178.5 376v2M1179.5 378v2M1180 380.5h1M1181.5 381v2M1182.5 383v2M1183.5 385v2M1184 387.5h1M1185.5 388v2M1186.5 390v2M1187.5 392v2M1188 394.5h1M1189.5 395v2M1190.5 397v2M1191.5 399v2M1192.5 401v2M1193.5 403v2M1194.5 405v2M1195.5 407v2M1196.5 409v2M1197.5 411v3M1198.5 414v2M1199.5 416v2M1200.5 418v2M1201.5 420v2M1202.5 422v3M1203.5 425v2M1204.5 427v2M1205.5 429v2M1206.5 431v3M1207.5 434v2M1208.5 436v2M1209.5 438v2M1210.5 440v2M1211.5 442v3M1212.5 445v2M1213.5 447v2M1214.5 449v2M1215.5 451v2M1216.5 453v2M1217.5 455v2M1218.5 457v2M1219.5 459v2M1220.5 461v2M1221.5 463v2M1222.5 465v2M1223 467.5h2M1225 468.5h2M1227 469.5h3M1230 470.5h3M1233 469.5h3M1236 468.5h3M1239 467.5h3M1242 466.5h2M1244 465.5h3M1247 464.5h2M1249.5 462v2M1250.5 460v2M1251.5 458v2M1252.5 456v2M1253.5 454v2M1254.5 452v2M1255.5 450v2M1256.5 447v3M1257.5 444v3M1258.5 441v3M1259.5 439v2M1260.5 436v3M1261.5 433v3M1262.5 430v3M1263.5 427v3M1264.5 424v3M1265.5 422v2M1266.5 419v3M1267.5 416v3M1268.5 414v2M1269.5 411v3M1270.5 409v2M1271 408.5h1M1272 407.5h2M1274 406.5h2M1276 405.5h3M1279 404.5h2M1281.5 402v2M1282 401.5h1M1283.5 399v2M1284.5 397v2M1285 396.5h1M1286.5 394v2M1287 393.5h4M1291 394.5h5M1296 395.5h1M1297 396.5h2M1299 397.5h1M1300 398.5h1M1301 399.5h2M1303 400.5h11M1314 401.5h4M1318 402.5h4M1322 403.5h3M1325 404.5h3M1328 405.5h3M1331 406.5h3M1334 407.5h2M1336 408.5h3M1339 409.5h3M1342 410.5h5M1347 409.5h7M1354 408.5h4M1358 407.5h1M1359.5 405v2M1360 404.5h1M1361 403.5h1M1362 402.5h1M1363.5 400v2M1364 399.5h1M1365 398.5h1M1366.5 396v2M1367 395.5h1M1368 394.5h1M1369.5 392v2M1370 391.5h1M1371.5 389v2M1372 388.5h1M1373.5 386v2M1374 385.5h1M1375.5 383v2M1376 382.5h1M1377.5 380v2M1378 379.5h1M1379.5 377v2M1380 376.5h1M1381.5 374v2M1382.5 372v2M1383.5 370v2M1384.5 368v2M1385.5 366v2M1386.5 364v2M1387.5 362v2M1388.5 360v2M1389.5 358v2M1390.5 356v2M1391 355.5h1M1392.5 353v2M1393 352.5h1M1394.5 350v2M1395 349.5h1M1396.5 347v2M1397.5 345v2M1398 344.5h1M1399.5 342v2M1400 341.5h1M1401.5 339v2M1402 338.5h1M1403 337.5h1M1404.5 335v2M1405 334.5h1M1406.5 332v2M1407 331.5h1M1408 330.5h2M1410 329.5h1M1411 328.5h2M1413 327.5h1M1414 326.5h2M1416 325.5h3M1419 324.5h4M1423 323.5h5M1428 322.5h4" fill="none" stroke="#35ab68" stroke-width="1" shape-rendering="crispEdges"/>
<g shape-rendering="crispEdges" clip-path="url(#cm)">
<rect x="-3" y="366" width="5" height="56" fill="#000" />
<rect x="-2" y="367" width="3" height="54" fill="#fff" />
<rect x="7" y="389" width="1" height="17" fill="#000" />
<rect x="5" y="394" width="5" height="12" fill="#000" />
<rect x="6" y="395" width="3" height="10" fill="#fff" />
<rect x="15" y="370" width="1" height="65" fill="#000" />
<rect x="13" y="393" width="5" height="7" fill="#000" />
<rect x="23" y="361" width="1" height="60" fill="#000" />
<rect x="21" y="398" width="5" height="13" fill="#000" />
<rect x="31" y="401" width="1" height="44" fill="#000" />
<rect x="29" y="410" width="5" height="22" fill="#000" />
<rect x="39" y="382" width="1" height="61" fill="#000" />
<rect x="37" y="391" width="5" height="41" fill="#000" />
<rect x="38" y="392" width="3" height="39" fill="#fff" />
<rect x="47" y="388" width="1" height="55" fill="#000" />
<rect x="45" y="391" width="5" height="40" fill="#000" />
<rect x="55" y="431" width="1" height="7" fill="#000" />
<rect x="53" y="431" width="5" height="5" fill="#000" />
<rect x="54" y="432" width="3" height="3" fill="#fff" />
<rect x="63" y="365" width="1" height="69" fill="#000" />
<rect x="61" y="406" width="5" height="26" fill="#000" />
<rect x="62" y="407" width="3" height="24" fill="#fff" />
<rect x="71" y="347" width="1" height="74" fill="#000" />
<rect x="69" y="383" width="5" height="24" fill="#000" />
<rect x="70" y="384" width="3" height="22" fill="#fff" />
<rect x="79" y="346" width="1" height="52" fill="#000" />
<rect x="77" y="348" width="5" height="36" fill="#000" />
<rect x="78" y="349" width="3" height="34" fill="#fff" />
<rect x="87" y="318" width="1" height="44" fill="#000" />
<rect x="85" y="346" width="5" height="2" fill="#000" />
<rect x="95" y="340" width="1" height="11" fill="#000" />
<rect x="93" y="341" width="5" height="7" fill="#000" />
<rect x="103" y="341" width="1" height="26" fill="#000" />
<rect x="101" y="347" width="5" height="10" fill="#000" />
<rect x="111" y="327" width="1" height="37" fill="#000" />
<rect x="109" y="338" width="5" height="19" fill="#000" />
<rect x="110" y="339" width="3" height="17" fill="#fff" />
<rect x="119" y="336" width="1" height="65" fill="#000" />
<rect x="117" y="338" width="5" height="21" fill="#000" />
<rect x="127" y="349" width="1" height="48" fill="#000" />
<rect x="125" y="355" width="5" height="3" fill="#000" />
<rect x="126" y="356" width="3" height="1" fill="#fff" />
<rect x="135" y="352" width="1" height="38" fill="#000" />
<rect x="133" y="355" width="5" height="17" fill="#000" />
<rect x="143" y="368" width="1" height="3" fill="#000" />
<rect x="141" y="368" width="5" height="1" fill="#000" />
<rect x="151" y="357" width="1" height="38" fill="#000" />
<rect x="149" y="367" width="5" height="21" fill="#000" />
<rect x="159" y="384" width="1" height="83" fill="#000" />
<rect x="157" y="387" width="5" height="57" fill="#000" />
<rect x="167" y="413" width="1" height="49" fill="#000" />
<rect x="165" y="430" width="5" height="12" fill="#000" />
<rect x="166" y="431" width="3" height="10" fill="#fff" />
<rect x="175" y="398" width="1" height="50" fill="#000" />
<rect x="173" y="426" width="5" height="4" fill="#000" />
<rect x="174" y="427" width="3" height="2" fill="#fff" />
<rect x="183" y="418" width="1" height="31" fill="#000" />
<rect x="181" y="424" width="5" height="13" fill="#000" />
<rect x="191" y="425" width="1" height="7" fill="#000" />
<rect x="189" y="426" width="5" height="4" fill="#000" />
<rect x="190" y="427" width="3" height="2" fill="#fff" />
<rect x="199" y="402" width="1" height="27" fill="#000" />
<rect x="197" y="414" width="5" height="13" fill="#000" />
<rect x="198" y="415" width="3" height="11" fill="#fff" />
<rect x="207" y="403" width="1" height="34" fill="#000" />
<rect x="205" y="413" width="5" height="22" fill="#000" />
<rect x="215" y="424" width="1" height="42" fill="#000" />
<rect x="213" y="426" width="5" height="9" fill="#000" />
<rect x="214" y="427" width="3" height="7" fill="#fff" />
<rect x="223" y="329" width="1" height="109" fill="#000" />
<rect x="221" y="348" width="5" height="79" fill="#000" />
<rect x="222" y="349" width="3" height="77" fill="#fff" />
<rect x="231" y="343" width="1" height="68" fill="#000" />
<rect x="229" y="348" width="5" height="61" fill="#000" />
<rect x="239" y="417" width="1" height="14" fill="#000" />
<rect x="237" y="421" width="5" height="7" fill="#000" />
<rect x="247" y="415" width="1" height="29" fill="#000" />
<rect x="245" y="427" width="5" height="7" fill="#000" />
<rect x="255" y="417" width="1" height="32" fill="#000" />
<rect x="253" y="433" width="5" height="13" fill="#000" />
<rect x="263" y="445" width="1" height="71" fill="#000" />
<rect x="261" y="445" width="5" height="62" fill="#000" />
<rect x="271" y="462" width="1" height="49" fill="#000" />
<rect x="269" y="478" width="5" height="28" fill="#000" />
<rect x="270" y="479" width="3" height="26" fill="#fff" />
<rect x="279" y="436" width="1" height="45" fill="#000" />
<rect x="277" y="448" width="5" height="31" fill="#000" />
<rect x="278" y="449" width="3" height="29" fill="#fff" />
<rect x="287" y="433" width="1" height="12" fill="#000" />
<rect x="285" y="434" width="5" height="7" fill="#000" />
<rect x="286" y="435" width="3" height="5" fill="#fff" />
<rect x="295" y="417" width="1" height="52" fill="#000" />
<rect x="293" y="433" width="5" height="5" fill="#000" />
<rect x="303" y="430" width="1" height="63" fill="#000" />
<rect x="301" y="437" width="5" height="55" fill="#000" />
<rect x="311" y="465" width="1" height="51" fill="#000" />
<rect x="309" y="490" width="5" height="18" fill="#000" />
<rect x="319" y="488" width="1" height="48" fill="#000" />
<rect x="317" y="489" width="5" height="19" fill="#000" />
<rect x="318" y="490" width="3" height="17" fill="#fff" />
<rect x="327" y="485" width="1" height="57" fill="#000" />
<rect x="325" y="489" width="5" height="53" fill="#000" />
<rect x="335" y="551" width="1" height="9" fill="#000" />
<rect x="333" y="552" width="5" height="6" fill="#000" />
<rect x="343" y="491" width="1" height="68" fill="#000" />
<rect x="341" y="502" width="5" height="55" fill="#000" />
<rect x="342" y="503" width="3" height="53" fill="#fff" />
<rect x="351" y="443" width="1" height="68" fill="#000" />
<rect x="349" y="458" width="5" height="45" fill="#000" />
<rect x="350" y="459" width="3" height="43" fill="#fff" />
<rect x="359" y="446" width="1" height="40" fill="#000" />
<rect x="357" y="458" width="5" height="19" fill="#000" />
<rect x="367" y="465" width="1" height="29" fill="#000" />
<rect x="365" y="476" width="5" height="5" fill="#000" />
<rect x="375" y="471" width="1" height="44" fill="#000" />
<rect x="373" y="480" width="5" height="24" fill="#000" />
<rect x="383" y="489" width="1" height="8" fill="#000" />
<rect x="381" y="490" width="5" height="4" fill="#000" />
<rect x="382" y="491" width="3" height="2" fill="#fff" />
<rect x="391" y="486" width="1" height="17" fill="#000" />
<rect x="389" y="486" width="5" height="5" fill="#000" />
<rect x="390" y="487" width="3" height="3" fill="#fff" />
<rect x="399" y="423" width="1" height="65" fill="#000" />
<rect x="397" y="441" width="5" height="46" fill="#000" />
<rect x="398" y="442" width="3" height="44" fill="#fff" />
<rect x="407" y="424" width="1" height="54" fill="#000" />
<rect x="405" y="441" width="5" height="15" fill="#000" />
<rect x="415" y="429" width="1" height="41" fill="#000" />
<rect x="413" y="440" width="5" height="16" fill="#000" />
<rect x="414" y="441" width="3" height="14" fill="#fff" />
<rect x="423" y="406" width="1" height="66" fill="#000" />
<rect x="421" y="430" width="5" height="10" fill="#000" />
<rect x="422" y="431" width="3" height="8" fill="#fff" />
<rect x="431" y="424" width="1" height="6" fill="#000" />
<rect x="429" y="424" width="5" height="2" fill="#000" />
<rect x="439" y="365" width="1" height="63" fill="#000" />
<rect x="437" y="374" width="5" height="52" fill="#000" />
<rect x="438" y="375" width="3" height="50" fill="#fff" />
<rect x="447" y="271" width="1" height="104" fill="#000" />
<rect x="445" y="272" width="5" height="103" fill="#000" />
<rect x="446" y="273" width="3" height="101" fill="#fff" />
<rect x="455" y="254" width="1" height="45" fill="#000" />
<rect x="453" y="268" width="5" height="5" fill="#000" />
<rect x="454" y="269" width="3" height="3" fill="#fff" />
<rect x="463" y="238" width="1" height="73" fill="#000" />
<rect x="461" y="247" width="5" height="21" fill="#000" />
<rect x="462" y="248" width="3" height="19" fill="#fff" />
<rect x="471" y="164" width="1" height="95" fill="#000" />
<rect x="469" y="198" width="5" height="49" fill="#000" />
<rect x="470" y="199" width="3" height="47" fill="#fff" />
<rect x="479" y="169" width="1" height="19" fill="#000" />
<rect x="477" y="176" width="5" height="12" fill="#000" />
<rect x="478" y="177" width="3" height="10" fill="#fff" />
<rect x="487" y="175" width="1" height="79" fill="#000" />
<rect x="485" y="175" width="5" height="54" fill="#000" />
<rect x="495" y="223" width="1" height="77" fill="#000" />
<rect x="493" y="229" width="5" height="41" fill="#000" />
<rect x="503" y="253" width="1" height="58" fill="#000" />
<rect x="501" y="268" width="5" height="40" fill="#000" />
<rect x="511" y="291" width="1" height="91" fill="#000" />
<rect x="509" y="306" width="5" height="69" fill="#000" />
<rect x="519" y="306" width="1" height="88" fill="#000" />
<rect x="517" y="373" width="5" height="6" fill="#000" />
<rect x="527" y="367" width="1" height="15" fill="#000" />
<rect x="525" y="368" width="5" height="9" fill="#000" />
<rect x="535" y="314" width="1" height="92" fill="#000" />
<rect x="533" y="314" width="5" height="62" fill="#000" />
<rect x="534" y="315" width="3" height="60" fill="#fff" />
<rect x="543" y="294" width="1" height="64" fill="#000" />
<rect x="541" y="314" width="5" height="29" fill="#000" />
<rect x="551" y="341" width="1" height="42" fill="#000" />
<rect x="549" y="342" width="5" height="39" fill="#000" />
<rect x="559" y="372" width="1" height="77" fill="#000" />
<rect x="557" y="381" width="5" height="47" fill="#000" />
<rect x="567" y="416" width="1" height="49" fill="#000" />
<rect x="565" y="426" width="5" height="37" fill="#000" />
<rect x="575" y="465" width="1" height="8" fill="#000" />
<rect x="573" y="467" width="5" height="1" fill="#000" />
<rect x="583" y="397" width="1" height="76" fill="#000" />
<rect x="581" y="400" width="5" height="66" fill="#000" />
<rect x="582" y="401" width="3" height="64" fill="#fff" />
<rect x="591" y="386" width="1" height="54" fill="#000" />
<rect x="589" y="400" width="5" height="14" fill="#000" />
<rect x="599" y="400" width="1" height="36" fill="#000" />
<rect x="597" y="413" width="5" height="18" fill="#000" />
<rect x="607" y="400" width="1" height="33" fill="#000" />
<rect x="605" y="419" width="5" height="12" fill="#000" />
<rect x="606" y="420" width="3" height="10" fill="#fff" />
<rect x="615" y="414" width="1" height="48" fill="#000" />
<rect x="613" y="420" width="5" height="33" fill="#000" />
<rect x="623" y="450" width="1" height="7" fill="#000" />
<rect x="621" y="450" width="5" height="4" fill="#000" />
<rect x="622" y="451" width="3" height="2" fill="#fff" />
<rect x="631" y="436" width="1" height="30" fill="#000" />
<rect x="629" y="446" width="5" height="5" fill="#000" />
<rect x="630" y="447" width="3" height="3" fill="#fff" />
<rect x="639" y="390" width="1" height="73" fill="#000" />
<rect x="637" y="394" width="5" height="52" fill="#000" />
<rect x="638" y="395" width="3" height="50" fill="#fff" />
<rect x="647" y="377" width="1" height="50" fill="#000" />
<rect x="645" y="392" width="5" height="3" fill="#000" />
<rect x="646" y="393" width="3" height="1" fill="#fff" />
<rect x="655" y="358" width="1" height="36" fill="#000" />
<rect x="653" y="386" width="5" height="7" fill="#000" />
<rect x="654" y="387" width="3" height="5" fill="#fff" />
<rect x="663" y="377" width="1" height="21" fill="#000" />
<rect x="661" y="381" width="5" height="5" fill="#000" />
<rect x="662" y="382" width="3" height="3" fill="#fff" />
<rect x="671" y="376" width="1" height="6" fill="#000" />
<rect x="669" y="377" width="5" height="4" fill="#000" />
<rect x="670" y="378" width="3" height="2" fill="#fff" />
<rect x="679" y="359" width="1" height="26" fill="#000" />
<rect x="677" y="377" width="5" height="4" fill="#000" />
<rect x="687" y="331" width="1" height="51" fill="#000" />
<rect x="685" y="350" width="5" height="31" fill="#000" />
<rect x="686" y="351" width="3" height="29" fill="#fff" />
<rect x="695" y="330" width="1" height="34" fill="#000" />
<rect x="693" y="335" width="5" height="16" fill="#000" />
<rect x="694" y="336" width="3" height="14" fill="#fff" />
<rect x="703" y="311" width="1" height="35" fill="#000" />
<rect x="701" y="334" width="5" height="7" fill="#000" />
<rect x="711" y="339" width="1" height="36" fill="#000" />
<rect x="709" y="339" width="5" height="7" fill="#000" />
<rect x="719" y="343" width="1" height="7" fill="#000" />
<rect x="717" y="344" width="5" height="4" fill="#000" />
<rect x="727" y="328" width="1" height="35" fill="#000" />
<rect x="725" y="346" width="5" height="15" fill="#000" />
<rect x="735" y="352" width="1" height="35" fill="#000" />
<rect x="733" y="356" width="5" height="5" fill="#000" />
<rect x="734" y="357" width="3" height="3" fill="#fff" />
<rect x="743" y="343" width="1" height="25" fill="#000" />
<rect x="741" y="356" width="5" height="7" fill="#000" />
<rect x="751" y="340" width="1" height="44" fill="#000" />
<rect x="749" y="357" width="5" height="6" fill="#000" />
<rect x="750" y="358" width="3" height="4" fill="#fff" />
<rect x="759" y="350" width="1" height="32" fill="#000" />
<rect x="757" y="357" width="5" height="14" fill="#000" />
<rect x="767" y="361" width="1" height="5" fill="#000" />
<rect x="765" y="361" width="5" height="5" fill="#000" />
<rect x="766" y="362" width="3" height="3" fill="#fff" />
<rect x="775" y="312" width="1" height="61" fill="#000" />
<rect x="773" y="319" width="5" height="43" fill="#000" />
<rect x="774" y="320" width="3" height="41" fill="#fff" />
<rect x="783" y="291" width="1" height="29" fill="#000" />
<rect x="781" y="308" width="5" height="12" fill="#000" />
<rect x="782" y="309" width="3" height="10" fill="#fff" />
<rect x="791" y="284" width="1" height="53" fill="#000" />
<rect x="789" y="292" width="5" height="16" fill="#000" />
<rect x="790" y="293" width="3" height="14" fill="#fff" />
<rect x="799" y="284" width="1" height="31" fill="#000" />
<rect x="797" y="292" width="5" height="17" fill="#000" />
<rect x="807" y="306" width="1" height="42" fill="#000" />
<rect x="805" y="308" width="5" height="18" fill="#000" />
<rect x="815" y="319" width="1" height="9" fill="#000" />
<rect x="813" y="322" width="5" height="2" fill="#000" />
<rect x="823" y="314" width="1" height="28" fill="#000" />
<rect x="821" y="320" width="5" height="4" fill="#000" />
<rect x="822" y="321" width="3" height="2" fill="#fff" />
<rect x="831" y="303" width="1" height="32" fill="#000" />
<rect x="829" y="314" width="5" height="7" fill="#000" />
<rect x="830" y="315" width="3" height="5" fill="#fff" />
<rect x="839" y="290" width="1" height="31" fill="#000" />
<rect x="837" y="296" width="5" height="19" fill="#000" />
<rect x="838" y="297" width="3" height="17" fill="#fff" />
<rect x="847" y="254" width="1" height="51" fill="#000" />
<rect x="845" y="259" width="5" height="37" fill="#000" />
<rect x="846" y="260" width="3" height="35" fill="#fff" />
<rect x="855" y="184" width="1" height="94" fill="#000" />
<rect x="853" y="208" width="5" height="51" fill="#000" />
<rect x="854" y="209" width="3" height="49" fill="#fff" />
<rect x="863" y="203" width="1" height="8" fill="#000" />
<rect x="861" y="204" width="5" height="4" fill="#000" />
<rect x="862" y="205" width="3" height="2" fill="#fff" />
<rect x="871" y="190" width="1" height="50" fill="#000" />
<rect x="869" y="204" width="5" height="3" fill="#000" />
<rect x="870" y="205" width="3" height="1" fill="#fff" />
<rect x="879" y="196" width="1" height="42" fill="#000" />
<rect x="877" y="205" width="5" height="17" fill="#000" />
<rect x="887" y="191" width="1" height="38" fill="#000" />
<rect x="885" y="210" width="5" height="12" fill="#000" />
<rect x="886" y="211" width="3" height="10" fill="#fff" />
<rect x="895" y="182" width="1" height="31" fill="#000" />
<rect x="893" y="203" width="5" height="7" fill="#000" />
<rect x="894" y="204" width="3" height="5" fill="#fff" />
<rect x="903" y="201" width="1" height="36" fill="#000" />
<rect x="901" y="203" width="5" height="18" fill="#000" />
<rect x="911" y="223" width="1" height="4" fill="#000" />
<rect x="909" y="224" width="5" height="2" fill="#000" />
<rect x="919" y="205" width="1" height="22" fill="#000" />
<rect x="917" y="208" width="5" height="17" fill="#000" />
<rect x="918" y="209" width="3" height="15" fill="#fff" />
<rect x="927" y="172" width="1" height="37" fill="#000" />
<rect x="925" y="192" width="5" height="16" fill="#000" />
<rect x="926" y="193" width="3" height="14" fill="#fff" />
<rect x="935" y="168" width="1" height="29" fill="#000" />
<rect x="933" y="177" width="5" height="16" fill="#000" />
<rect x="934" y="178" width="3" height="14" fill="#fff" />
<rect x="943" y="145" width="1" height="37" fill="#000" />
<rect x="941" y="160" width="5" height="17" fill="#000" />
<rect x="942" y="161" width="3" height="15" fill="#fff" />
<rect x="951" y="152" width="1" height="27" fill="#000" />
<rect x="949" y="160" width="5" height="13" fill="#000" />
<rect x="959" y="166" width="1" height="4" fill="#000" />
<rect x="957" y="166" width="5" height="3" fill="#000" />
<rect x="958" y="167" width="3" height="1" fill="#fff" />
<rect x="967" y="165" width="1" height="38" fill="#000" />
<rect x="965" y="166" width="5" height="29" fill="#000" />
<rect x="975" y="167" width="1" height="41" fill="#000" />
<rect x="973" y="174" width="5" height="21" fill="#000" />
<rect x="974" y="175" width="3" height="19" fill="#fff" />
<rect x="983" y="155" width="1" height="45" fill="#000" />
<rect x="981" y="173" width="5" height="17" fill="#000" />
<rect x="991" y="157" width="1" height="52" fill="#000" />
<rect x="989" y="166" width="5" height="24" fill="#000" />
<rect x="990" y="167" width="3" height="22" fill="#fff" />
<rect x="999" y="155" width="1" height="66" fill="#000" />
<rect x="997" y="166" width="5" height="44" fill="#000" />
<rect x="1007" y="203" width="1" height="3" fill="#000" />
<rect x="1005" y="204" width="5" height="2" fill="#000" />
<rect x="1015" y="191" width="1" height="29" fill="#000" />
<rect x="1013" y="206" width="5" height="4" fill="#000" />
<rect x="1023" y="151" width="1" height="63" fill="#000" />
<rect x="1021" y="157" width="5" height="53" fill="#000" />
<rect x="1022" y="158" width="3" height="51" fill="#fff" />
<rect x="1031" y="141" width="1" height="27" fill="#000" />
<rect x="1029" y="155" width="5" height="2" fill="#000" />
<rect x="1039" y="119" width="1" height="47" fill="#000" />
<rect x="1037" y="123" width="5" height="33" fill="#000" />
<rect x="1038" y="124" width="3" height="31" fill="#fff" />
<rect x="1047" y="90" width="1" height="63" fill="#000" />
<rect x="1045" y="123" width="5" height="6" fill="#000" />
<rect x="1055" y="114" width="1" height="8" fill="#000" />
<rect x="1053" y="114" width="5" height="3" fill="#000" />
<rect x="1063" y="74" width="1" height="60" fill="#000" />
<rect x="1061" y="89" width="5" height="28" fill="#000" />
<rect x="1062" y="90" width="3" height="26" fill="#fff" />
<rect x="1071" y="47" width="1" height="55" fill="#000" />
<rect x="1069" y="80" width="5" height="9" fill="#000" />
<rect x="1070" y="81" width="3" height="7" fill="#fff" />
<rect x="1079" y="76" width="1" height="38" fill="#000" />
<rect x="1077" y="81" width="5" height="4" fill="#000" />
<rect x="1087" y="84" width="1" height="51" fill="#000" />
<rect x="1085" y="85" width="5" height="41" fill="#000" />
<rect x="1095" y="97" width="1" height="52" fill="#000" />
<rect x="1093" y="108" width="5" height="18" fill="#000" />
<rect x="1094" y="109" width="3" height="16" fill="#fff" />
<rect x="1103" y="119" width="1" height="6" fill="#000" />
<rect x="1101" y="121" width="5" height="1" fill="#000" />
<rect x="1111" y="114" width="1" height="55" fill="#000" />
<rect x="1109" y="121" width="5" height="37" fill="#000" />
<rect x="1119" y="156" width="1" height="112" fill="#000" />
<rect x="1117" y="157" width="5" height="98" fill="#000" />
<rect x="1127" y="216" width="1" height="64" fill="#000" />
<rect x="1125" y="228" width="5" height="27" fill="#000" />
<rect x="1126" y="229" width="3" height="25" fill="#fff" />
<rect x="1135" y="217" width="1" height="108" fill="#000" />
<rect x="1133" y="228" width="5" height="83" fill="#000" />
<rect x="1143" y="285" width="1" height="40" fill="#000" />
<rect x="1141" y="309" width="5" height="11" fill="#000" />
<rect x="1151" y="310" width="1" height="5" fill="#000" />
<rect x="1149" y="310" width="5" height="3" fill="#000" />
<rect x="1150" y="311" width="3" height="1" fill="#fff" />
<rect x="1159" y="285" width="1" height="33" fill="#000" />
<rect x="1157" y="310" width="5" height="5" fill="#000" />
<rect x="1167" y="291" width="1" height="40" fill="#000" />
<rect x="1165" y="315" width="5" height="2" fill="#000" />
<rect x="1175" y="290" width="1" height="36" fill="#000" />
<rect x="1173" y="301" width="5" height="16" fill="#000" />
<rect x="1174" y="302" width="3" height="14" fill="#fff" />
<rect x="1183" y="302" width="1" height="62" fill="#000" />
<rect x="1181" y="302" width="5" height="13" fill="#000" />
<rect x="1191" y="303" width="1" height="46" fill="#000" />
<rect x="1189" y="313" width="5" height="29" fill="#000" />
<rect x="1199" y="338" width="1" height="5" fill="#000" />
<rect x="1197" y="339" width="5" height="3" fill="#000" />
<rect x="1198" y="340" width="3" height="1" fill="#fff" />
<rect x="1207" y="334" width="1" height="70" fill="#000" />
<rect x="1205" y="339" width="5" height="40" fill="#000" />
<rect x="1215" y="370" width="1" height="53" fill="#000" />
<rect x="1213" y="378" width="5" height="14" fill="#000" />
<rect x="1223" y="362" width="1" height="58" fill="#000" />
<rect x="1221" y="390" width="5" height="1" fill="#000" />
<rect x="1231" y="360" width="1" height="46" fill="#000" />
<rect x="1229" y="366" width="5" height="24" fill="#000" />
<rect x="1230" y="367" width="3" height="22" fill="#fff" />
<rect x="1239" y="353" width="1" height="37" fill="#000" />
<rect x="1237" y="367" width="5" height="3" fill="#000" />
<rect x="1247" y="354" width="1" height="6" fill="#000" />
<rect x="1245" y="356" width="5" height="4" fill="#000" />
<rect x="1246" y="357" width="3" height="2" fill="#fff" />
<rect x="1255" y="299" width="1" height="69" fill="#000" />
<rect x="1253" y="318" width="5" height="39" fill="#000" />
<rect x="1254" y="319" width="3" height="37" fill="#fff" />
<rect x="1263" y="298" width="1" height="32" fill="#000" />
<rect x="1261" y="311" width="5" height="8" fill="#000" />
<rect x="1262" y="312" width="3" height="6" fill="#fff" />
<rect x="1271" y="287" width="1" height="53" fill="#000" />
<rect x="1269" y="300" width="5" height="11" fill="#000" />
<rect x="1270" y="301" width="3" height="9" fill="#fff" />
<rect x="1279" y="274" width="1" height="60" fill="#000" />
<rect x="1277" y="300" width="5" height="9" fill="#000" />
<rect x="1287" y="293" width="1" height="53" fill="#000" />
<rect x="1285" y="296" width="5" height="13" fill="#000" />
<rect x="1286" y="297" width="3" height="11" fill="#fff" />
<rect x="1295" y="288" width="1" height="6" fill="#000" />
<rect x="1293" y="291" width="5" height="2" fill="#000" />
<rect x="1303" y="253" width="1" height="45" fill="#000" />
<rect x="1301" y="256" width="5" height="36" fill="#000" />
<rect x="1302" y="257" width="3" height="34" fill="#fff" />
<rect x="1311" y="252" width="1" height="61" fill="#000" />
<rect x="1309" y="256" width="5" height="49" fill="#000" />
<rect x="1319" y="274" width="1" height="36" fill="#000" />
<rect x="1317" y="274" width="5" height="31" fill="#000" />
<rect x="1318" y="275" width="3" height="29" fill="#fff" />
<rect x="1327" y="253" width="1" height="29" fill="#000" />
<rect x="1325" y="262" width="5" height="12" fill="#000" />
<rect x="1326" y="263" width="3" height="10" fill="#fff" />
<rect x="1335" y="239" width="1" height="39" fill="#000" />
<rect x="1333" y="241" width="5" height="22" fill="#000" />
<rect x="1334" y="242" width="3" height="20" fill="#fff" />
<rect x="1343" y="239" width="1" height="8" fill="#000" />
<rect x="1341" y="242" width="5" height="3" fill="#000" />
<rect x="1351" y="240" width="1" height="22" fill="#000" />
<rect x="1349" y="241" width="5" height="5" fill="#000" />
<rect x="1359" y="239" width="1" height="55" fill="#000" />
<rect x="1357" y="245" width="5" height="48" fill="#000" />
<rect x="1367" y="256" width="1" height="66" fill="#000" />
<rect x="1365" y="277" width="5" height="16" fill="#000" />
<rect x="1366" y="278" width="3" height="14" fill="#fff" />
<rect x="1375" y="262" width="1" height="56" fill="#000" />
<rect x="1373" y="277" width="5" height="34" fill="#000" />
<rect x="1383" y="292" width="1" height="40" fill="#000" />
<rect x="1381" y="298" width="5" height="12" fill="#000" />
<rect x="1382" y="299" width="3" height="10" fill="#fff" />
<rect x="1391" y="296" width="1" height="6" fill="#000" />
<rect x="1389" y="297" width="5" height="5" fill="#000" />
<rect x="1390" y="298" width="3" height="3" fill="#fff" />
<rect x="1399" y="259" width="1" height="41" fill="#000" />
<rect x="1397" y="287" width="5" height="11" fill="#000" />
<rect x="1398" y="288" width="3" height="9" fill="#fff" />
<rect x="1407" y="278" width="1" height="18" fill="#000" />
<rect x="1405" y="284" width="5" height="4" fill="#000" />
<rect x="1406" y="285" width="3" height="2" fill="#fff" />
<rect x="1415" y="243" width="1" height="44" fill="#000" />
<rect x="1413" y="252" width="5" height="31" fill="#000" />
<rect x="1414" y="253" width="3" height="29" fill="#fff" />
<rect x="1423" y="246" width="1" height="23" fill="#000" />
<rect x="1421" y="252" width="5" height="11" fill="#000" />
<rect x="1431" y="257" width="1" height="38" fill="#000" />
<rect x="1429" y="262" width="5" height="27" fill="#000" />
</g>
<rect x="1173" y="268" width="285" height="6" fill="#00ff00" shape-rendering="crispEdges"/>
<line x1="1230.5" y1="405.0" x2="1348.0" y2="239.5" stroke="#ff0000" stroke-width="4.0" stroke-linecap="round"/>
<polygon points="1348.0,239.5 1346.8,249.9 1338.6,244.1" fill="#ff0000" stroke="#ff0000" stroke-width="1.5" stroke-linejoin="round"/>
<line x1="1348.0" y1="239.5" x2="1386.5" y2="314.0" stroke="#ff0000" stroke-width="4.0" stroke-linecap="round"/>
<polygon points="1386.5,314.0 1377.8,308.1 1386.7,303.5" fill="#ff0000" stroke="#ff0000" stroke-width="1.5" stroke-linejoin="round"/>
<line x1="1386.5" y1="314.0" x2="1419.4" y2="248.5" stroke="#ff0000" stroke-width="4.0" stroke-linecap="round"/>
<polygon points="1419.4,248.5 1419.8,259.0 1410.8,254.5" fill="#ff0000" stroke="#ff0000" stroke-width="1.5" stroke-linejoin="round"/>
<line x1="1419.4" y1="248.5" x2="1443.5" y2="291.0" stroke="#ff0000" stroke-width="4.0" stroke-linecap="round"/>
<polygon points="1443.5,291.0 1434.6,285.5 1443.3,280.5" fill="#ff0000" stroke="#ff0000" stroke-width="1.5" stroke-linejoin="round"/>
<rect x="1000.5" y="40.5" width="61" height="18" fill="#fff" stroke="#ff0000" stroke-width="1"/>
<rect x="1061" y="49" width="10" height="1" fill="#ff0000" />
<text x="1002.8" y="55.7" font-size="15.8" fill="#ff0000" textLength="57.3" lengthAdjust="spacingAndGlyphs" >142.659</text>
<rect x="400.5" y="154.5" width="61" height="18" fill="#fff" stroke="#ff0000" stroke-width="1"/>
<rect x="461" y="163" width="10" height="1" fill="#ff0000" />
<text x="402.8" y="169.7" font-size="15.8" fill="#ff0000" textLength="57.3" lengthAdjust="spacingAndGlyphs" >139.715</text>
<rect x="504.5" y="464.5" width="61" height="18" fill="#fff" stroke="#ff0000" stroke-width="1"/>
<rect x="565" y="473" width="10" height="1" fill="#ff0000" />
<text x="506.8" y="479.7" font-size="15.8" fill="#ff0000" textLength="57.3" lengthAdjust="spacingAndGlyphs" >131.734</text>
<rect x="1144.5" y="413.5" width="61" height="18" fill="#fff" stroke="#ff0000" stroke-width="1"/>
<rect x="1205" y="422" width="10" height="1" fill="#ff0000" />
<text x="1146.8" y="428.7" font-size="15.8" fill="#ff0000" textLength="57.3" lengthAdjust="spacingAndGlyphs" >133.029</text>
<rect x="1026.5" y="256.5" width="73" height="24" fill="#fff" stroke="#ff0000" stroke-width="1"/>
<rect x="1016" y="268" width="10" height="1" fill="#ff0000" />
<text x="1028.6" y="277.0" font-size="22.5" fill="#ff0000" textLength="69.3" lengthAdjust="spacingAndGlyphs" stroke="#ff0000" stroke-width="0.3">137.020</text>
<rect x="1472.5" y="239.5" width="110" height="24" fill="#fff" stroke="#222" stroke-width="1"/>
<text x="1472.5" y="258.8" font-size="21" fill="#00ff00" stroke="#00ff00" stroke-width="0.27" textLength="107.75" lengthAdjust="spacing" font-family="'Liberation Serif','Noto Serif CJK SC',serif">多空转折点</text>
<rect x="1525.5" y="237.5" width="2" height="2" fill="#fff" stroke="#30d030" stroke-width="1"/>
<rect x="1682" y="42" width="2" height="1" fill="#000" />
<text x="1687.5" y="46" font-size="9.8" fill="#000" textLength="32.5" lengthAdjust="spacingAndGlyphs" >142.835</text>
<rect x="1682" y="75" width="2" height="1" fill="#000" />
<text x="1687.5" y="79" font-size="9.8" fill="#000" textLength="32.5" lengthAdjust="spacingAndGlyphs" >141.985</text>
<rect x="1682" y="108" width="2" height="1" fill="#000" />
<text x="1687.5" y="112" font-size="9.8" fill="#000" textLength="32.5" lengthAdjust="spacingAndGlyphs" >141.135</text>
<rect x="1682" y="141" width="2" height="1" fill="#000" />
<text x="1687.5" y="145" font-size="9.8" fill="#000" textLength="32.5" lengthAdjust="spacingAndGlyphs" >140.285</text>
<rect x="1682" y="174" width="2" height="1" fill="#000" />
<text x="1687.5" y="178" font-size="9.8" fill="#000" textLength="32.5" lengthAdjust="spacingAndGlyphs" >139.435</text>
<rect x="1682" y="207" width="2" height="1" fill="#000" />
<text x="1687.5" y="211" font-size="9.8" fill="#000" textLength="32.5" lengthAdjust="spacingAndGlyphs" >138.585</text>
<rect x="1682" y="240" width="2" height="1" fill="#000" />
<text x="1687.5" y="244" font-size="9.8" fill="#000" textLength="32.5" lengthAdjust="spacingAndGlyphs" >137.735</text>
<rect x="1682" y="273" width="2" height="1" fill="#000" />
<text x="1687.5" y="277" font-size="9.8" fill="#000" textLength="32.5" lengthAdjust="spacingAndGlyphs" >136.885</text>
<rect x="1682" y="306" width="2" height="1" fill="#000" />
<text x="1687.5" y="310" font-size="9.8" fill="#000" textLength="32.5" lengthAdjust="spacingAndGlyphs" >136.035</text>
<rect x="1682" y="339" width="2" height="1" fill="#000" />
<text x="1687.5" y="343" font-size="9.8" fill="#000" textLength="32.5" lengthAdjust="spacingAndGlyphs" >135.185</text>
<rect x="1682" y="372" width="2" height="1" fill="#000" />
<text x="1687.5" y="376" font-size="9.8" fill="#000" textLength="32.5" lengthAdjust="spacingAndGlyphs" >134.335</text>
<rect x="1682" y="405" width="2" height="1" fill="#000" />
<text x="1687.5" y="409" font-size="9.8" fill="#000" textLength="32.5" lengthAdjust="spacingAndGlyphs" >133.485</text>
<rect x="1682" y="438" width="2" height="1" fill="#000" />
<text x="1687.5" y="442" font-size="9.8" fill="#000" textLength="32.5" lengthAdjust="spacingAndGlyphs" >132.635</text>
<rect x="1682" y="471" width="2" height="1" fill="#000" />
<text x="1687.5" y="475" font-size="9.8" fill="#000" textLength="32.5" lengthAdjust="spacingAndGlyphs" >131.785</text>
<rect x="1682" y="504" width="2" height="1" fill="#000" />
<text x="1687.5" y="508" font-size="9.8" fill="#000" textLength="32.5" lengthAdjust="spacingAndGlyphs" >130.935</text>
<rect x="1682" y="537" width="2" height="1" fill="#000" />
<text x="1687.5" y="541" font-size="9.8" fill="#000" textLength="32.5" lengthAdjust="spacingAndGlyphs" >130.085</text>
<rect x="1682" y="570" width="2" height="1" fill="#000" />
<text x="1687.5" y="574" font-size="9.8" fill="#000" textLength="32.5" lengthAdjust="spacingAndGlyphs" >129.235</text>
<rect x="1683" y="191" width="41" height="11" fill="#ff0000" />
<text x="1687.5" y="199.9" font-size="9.8" fill="#fff" textLength="32.5" lengthAdjust="spacingAndGlyphs" >138.854</text>
<rect x="1683" y="221" width="41" height="11" fill="#ff0000" />
<text x="1687.5" y="229.9" font-size="9.8" fill="#fff" textLength="32.5" lengthAdjust="spacingAndGlyphs" >138.080</text>
<rect x="1683" y="262" width="41" height="11" fill="#32cd32" />
<text x="1687.5" y="270.9" font-size="9.8" fill="#fff" textLength="32.5" lengthAdjust="spacingAndGlyphs" >137.020</text>
<rect x="1683" y="283" width="41" height="11" fill="#000000" />
<text x="1687.5" y="291.9" font-size="9.8" fill="#fff" textLength="32.5" lengthAdjust="spacingAndGlyphs" >136.490</text>
<rect x="1683" y="296" width="41" height="11" fill="#0000ff" />
<text x="1687.5" y="304.9" font-size="9.8" fill="#fff" textLength="32.5" lengthAdjust="spacingAndGlyphs" >136.132</text>
<rect x="1683" y="325" width="41" height="11" fill="#0000ff" />
<text x="1687.5" y="333.9" font-size="9.8" fill="#fff" textLength="32.5" lengthAdjust="spacingAndGlyphs" >135.391</text>
<text x="6" y="32" font-size="9.8" fill="#000" textLength="209.5" lengthAdjust="spacingAndGlyphs" >GBPJPY-,Daily&#160;&#160;137.169 137.302 136.344 136.490</text>
<rect x="0" y="30" width="2" height="1" fill="#000" />
<rect x="0" y="40" width="46" height="25" fill="#b80000" />
<rect x="0" y="41" width="45" height="24" fill="url(#gs)" />
<rect x="161" y="40" width="53" height="25" fill="#b80000" />
<rect x="162" y="41" width="51" height="24" fill="url(#gs)" />
<rect x="0" y="64" width="103" height="40" fill="#b80000" />
<rect x="0" y="65" width="102" height="38" fill="url(#gb)" />
<rect x="105" y="64" width="109" height="40" fill="#b80000" />
<rect x="106" y="65" width="107" height="38" fill="url(#gb)" />
<rect x="0" y="64" width="45" height="1" fill="#dc3434" />
<rect x="166" y="64" width="47" height="1" fill="#dc3434" />
<rect x="0" y="63" width="42" height="1" fill="#b81818" />
<rect x="0" y="64" width="42" height="1" fill="#f07878" />
<rect x="166" y="63" width="43" height="1" fill="#b81818" />
<rect x="166" y="64" width="43" height="1" fill="#f07878" />
<rect x="48.5" y="40.5" width="110" height="21" fill="#fff" stroke="#a0a4ac" stroke-width="1"/>
<rect x="50" y="42" width="18" height="6" fill="#eeeeee" />
<rect x="50" y="48" width="18" height="12" fill="#d6d6d6" />
<rect x="139" y="42" width="18" height="6" fill="#eeeeee" />
<rect x="139" y="48" width="18" height="12" fill="#d6d6d6" />
<rect x="69" y="41" width="1" height="20" fill="#a0a4ac" />
<rect x="137" y="41" width="1" height="20" fill="#a0a4ac" />
<polygon points="56,49 62,49 59,52.3" fill="#4858c0"/>
<polygon points="144.5,52 150.5,52 147.5,48.7" fill="#4858c0"/>
<text x="133.5" y="55.5" font-size="12" fill="#000" text-anchor="end" textLength="23" lengthAdjust="spacingAndGlyphs" >1.00</text>
<text x="6.3" y="56" font-size="11.8" fill="#fff" textLength="25.5" lengthAdjust="spacingAndGlyphs" >SELL</text>
<text x="174.3" y="56" font-size="11.8" fill="#fff" textLength="23" lengthAdjust="spacingAndGlyphs" >BUY</text>
<text x="17.3" y="94.5" font-size="11.5" fill="#fff" textLength="20.5" lengthAdjust="spacingAndGlyphs" font-weight="bold" >136</text>
<text x="127" y="94.5" font-size="11.5" fill="#fff" textLength="20.5" lengthAdjust="spacingAndGlyphs" font-weight="bold" >136</text>
<text x="41" y="95" font-size="32.5" fill="#fff" textLength="35" lengthAdjust="spacingAndGlyphs" >49</text>
<text x="154" y="95" font-size="32.5" fill="#fff" textLength="32.5" lengthAdjust="spacingAndGlyphs" >53</text>
<text x="81" y="80.5" font-size="13.5" fill="#fff" textLength="7" lengthAdjust="spacingAndGlyphs" font-weight="bold" >0</text>
<text x="192.5" y="80.5" font-size="13.5" fill="#fff" textLength="6.5" lengthAdjust="spacingAndGlyphs" font-weight="bold" >1</text>
<rect x="1727" y="18" width="1" height="924" fill="#e4e4e4" />
<polygon points="1438,21 1448,21 1443,26" fill="#c0c0c0"/>
<g shape-rendering="crispEdges" clip-path="url(#cd)">
<rect x="7" y="636" width="1" height="52" fill="#c0c0c0" />
<rect x="15" y="636" width="1" height="44" fill="#c0c0c0" />
<rect x="23" y="636" width="1" height="38" fill="#c0c0c0" />
<rect x="31" y="636" width="1" height="33" fill="#c0c0c0" />
<rect x="39" y="636" width="1" height="28" fill="#c0c0c0" />
<rect x="47" y="636" width="1" height="26" fill="#c0c0c0" />
<rect x="55" y="636" width="1" height="22" fill="#c0c0c0" />
<rect x="63" y="636" width="1" height="19" fill="#c0c0c0" />
<rect x="71" y="636" width="1" height="15" fill="#c0c0c0" />
<rect x="79" y="636" width="1" height="9" fill="#c0c0c0" />
<rect x="87" y="636" width="1" height="3" fill="#c0c0c0" />
<rect x="95" y="636" width="1" height="1" fill="#c0c0c0" />
<rect x="103" y="635" width="1" height="1" fill="#c0c0c0" />
<rect x="111" y="632" width="1" height="4" fill="#c0c0c0" />
<rect x="119" y="631" width="1" height="5" fill="#c0c0c0" />
<rect x="127" y="630" width="1" height="6" fill="#c0c0c0" />
<rect x="135" y="630" width="1" height="6" fill="#c0c0c0" />
<rect x="143" y="631" width="1" height="5" fill="#c0c0c0" />
<rect x="151" y="633" width="1" height="3" fill="#c0c0c0" />
<rect x="159" y="636" width="1" height="1" fill="#c0c0c0" />
<rect x="167" y="636" width="1" height="3" fill="#c0c0c0" />
<rect x="175" y="636" width="1" height="5" fill="#c0c0c0" />
<rect x="183" y="636" width="1" height="6" fill="#c0c0c0" />
<rect x="191" y="636" width="1" height="7" fill="#c0c0c0" />
<rect x="199" y="636" width="1" height="7" fill="#c0c0c0" />
<rect x="207" y="636" width="1" height="9" fill="#c0c0c0" />
<rect x="215" y="636" width="1" height="9" fill="#c0c0c0" />
<rect x="223" y="636" width="1" height="4" fill="#c0c0c0" />
<rect x="231" y="636" width="1" height="4" fill="#c0c0c0" />
<rect x="239" y="636" width="1" height="6" fill="#c0c0c0" />
<rect x="247" y="636" width="1" height="6" fill="#c0c0c0" />
<rect x="255" y="636" width="1" height="6" fill="#c0c0c0" />
<rect x="263" y="636" width="1" height="14" fill="#c0c0c0" />
<rect x="271" y="636" width="1" height="16" fill="#c0c0c0" />
<rect x="279" y="636" width="1" height="15" fill="#c0c0c0" />
<rect x="287" y="636" width="1" height="14" fill="#c0c0c0" />
<rect x="295" y="636" width="1" height="13" fill="#c0c0c0" />
<rect x="303" y="636" width="1" height="15" fill="#c0c0c0" />
<rect x="311" y="636" width="1" height="18" fill="#c0c0c0" />
<rect x="319" y="636" width="1" height="19" fill="#c0c0c0" />
<rect x="327" y="636" width="1" height="22" fill="#c0c0c0" />
<rect x="335" y="636" width="1" height="24" fill="#c0c0c0" />
<rect x="343" y="636" width="1" height="26" fill="#c0c0c0" />
<rect x="351" y="636" width="1" height="21" fill="#c0c0c0" />
<rect x="359" y="636" width="1" height="20" fill="#c0c0c0" />
<rect x="367" y="636" width="1" height="18" fill="#c0c0c0" />
<rect x="375" y="636" width="1" height="17" fill="#c0c0c0" />
<rect x="383" y="636" width="1" height="16" fill="#c0c0c0" />
<rect x="391" y="636" width="1" height="14" fill="#c0c0c0" />
<rect x="399" y="636" width="1" height="11" fill="#c0c0c0" />
<rect x="407" y="636" width="1" height="9" fill="#c0c0c0" />
<rect x="415" y="636" width="1" height="7" fill="#c0c0c0" />
<rect x="423" y="636" width="1" height="3" fill="#c0c0c0" />
<rect x="431" y="636" width="1" height="1" fill="#c0c0c0" />
<rect x="439" y="632" width="1" height="4" fill="#c0c0c0" />
<rect x="447" y="621" width="1" height="15" fill="#c0c0c0" />
<rect x="455" y="612" width="1" height="24" fill="#c0c0c0" />
<rect x="463" y="605" width="1" height="31" fill="#c0c0c0" />
<rect x="471" y="595" width="1" height="41" fill="#c0c0c0" />
<rect x="479" y="587" width="1" height="49" fill="#c0c0c0" />
<rect x="487" y="585" width="1" height="51" fill="#c0c0c0" />
<rect x="495" y="587" width="1" height="49" fill="#c0c0c0" />
<rect x="503" y="591" width="1" height="45" fill="#c0c0c0" />
<rect x="511" y="599" width="1" height="37" fill="#c0c0c0" />
<rect x="519" y="606" width="1" height="30" fill="#c0c0c0" />
<rect x="527" y="612" width="1" height="24" fill="#c0c0c0" />
<rect x="535" y="613" width="1" height="23" fill="#c0c0c0" />
<rect x="543" y="616" width="1" height="20" fill="#c0c0c0" />
<rect x="551" y="621" width="1" height="15" fill="#c0c0c0" />
<rect x="559" y="628" width="1" height="8" fill="#c0c0c0" />
<rect x="575" y="636" width="1" height="4" fill="#c0c0c0" />
<rect x="583" y="636" width="1" height="6" fill="#c0c0c0" />
<rect x="591" y="636" width="1" height="7" fill="#c0c0c0" />
<rect x="599" y="636" width="1" height="8" fill="#c0c0c0" />
<rect x="607" y="636" width="1" height="10" fill="#c0c0c0" />
<rect x="615" y="636" width="1" height="12" fill="#c0c0c0" />
<rect x="623" y="636" width="1" height="15" fill="#c0c0c0" />
<rect x="631" y="636" width="1" height="16" fill="#c0c0c0" />
<rect x="639" y="636" width="1" height="12" fill="#c0c0c0" />
<rect x="647" y="636" width="1" height="10" fill="#c0c0c0" />
<rect x="655" y="636" width="1" height="8" fill="#c0c0c0" />
<rect x="663" y="636" width="1" height="6" fill="#c0c0c0" />
<rect x="671" y="636" width="1" height="3" fill="#c0c0c0" />
<rect x="679" y="636" width="1" height="1" fill="#c0c0c0" />
<rect x="695" y="632" width="1" height="4" fill="#c0c0c0" />
<rect x="703" y="630" width="1" height="6" fill="#c0c0c0" />
<rect x="711" y="629" width="1" height="7" fill="#c0c0c0" />
<rect x="719" y="628" width="1" height="8" fill="#c0c0c0" />
<rect x="727" y="628" width="1" height="8" fill="#c0c0c0" />
<rect x="735" y="628" width="1" height="8" fill="#c0c0c0" />
<rect x="743" y="629" width="1" height="7" fill="#c0c0c0" />
<rect x="751" y="629" width="1" height="7" fill="#c0c0c0" />
<rect x="759" y="629" width="1" height="7" fill="#c0c0c0" />
<rect x="767" y="629" width="1" height="7" fill="#c0c0c0" />
<rect x="775" y="627" width="1" height="9" fill="#c0c0c0" />
<rect x="783" y="625" width="1" height="11" fill="#c0c0c0" />
<rect x="791" y="623" width="1" height="13" fill="#c0c0c0" />
<rect x="799" y="622" width="1" height="14" fill="#c0c0c0" />
<rect x="807" y="622" width="1" height="14" fill="#c0c0c0" />
<rect x="815" y="623" width="1" height="13" fill="#c0c0c0" />
<rect x="823" y="623" width="1" height="13" fill="#c0c0c0" />
<rect x="831" y="623" width="1" height="13" fill="#c0c0c0" />
<rect x="839" y="622" width="1" height="14" fill="#c0c0c0" />
<rect x="847" y="619" width="1" height="17" fill="#c0c0c0" />
<rect x="855" y="613" width="1" height="23" fill="#c0c0c0" />
<rect x="863" y="609" width="1" height="27" fill="#c0c0c0" />
<rect x="871" y="606" width="1" height="30" fill="#c0c0c0" />
<rect x="879" y="605" width="1" height="31" fill="#c0c0c0" />
<rect x="887" y="604" width="1" height="32" fill="#c0c0c0" />
<rect x="895" y="603" width="1" height="33" fill="#c0c0c0" />
<rect x="903" y="604" width="1" height="32" fill="#c0c0c0" />
<rect x="911" y="605" width="1" height="31" fill="#c0c0c0" />
<rect x="919" y="606" width="1" height="30" fill="#c0c0c0" />
<rect x="927" y="605" width="1" height="31" fill="#c0c0c0" />
<rect x="935" y="603" width="1" height="33" fill="#c0c0c0" />
<rect x="943" y="603" width="1" height="33" fill="#c0c0c0" />
<rect x="951" y="603" width="1" height="33" fill="#c0c0c0" />
<rect x="959" y="604" width="1" height="32" fill="#c0c0c0" />
<rect x="967" y="605" width="1" height="31" fill="#c0c0c0" />
<rect x="975" y="606" width="1" height="30" fill="#c0c0c0" />
<rect x="983" y="608" width="1" height="28" fill="#c0c0c0" />
<rect x="991" y="608" width="1" height="28" fill="#c0c0c0" />
<rect x="999" y="611" width="1" height="25" fill="#c0c0c0" />
<rect x="1007" y="614" width="1" height="22" fill="#c0c0c0" />
<rect x="1015" y="617" width="1" height="19" fill="#c0c0c0" />
<rect x="1023" y="616" width="1" height="20" fill="#c0c0c0" />
<rect x="1031" y="615" width="1" height="21" fill="#c0c0c0" />
<rect x="1039" y="613" width="1" height="23" fill="#c0c0c0" />
<rect x="1047" y="612" width="1" height="24" fill="#c0c0c0" />
<rect x="1055" y="610" width="1" height="26" fill="#c0c0c0" />
<rect x="1063" y="607" width="1" height="29" fill="#c0c0c0" />
<rect x="1071" y="604" width="1" height="32" fill="#c0c0c0" />
<rect x="1079" y="604" width="1" height="32" fill="#c0c0c0" />
<rect x="1087" y="606" width="1" height="30" fill="#c0c0c0" />
<rect x="1095" y="607" width="1" height="29" fill="#c0c0c0" />
<rect x="1103" y="609" width="1" height="27" fill="#c0c0c0" />
<rect x="1111" y="613" width="1" height="23" fill="#c0c0c0" />
<rect x="1119" y="623" width="1" height="13" fill="#c0c0c0" />
<rect x="1127" y="629" width="1" height="7" fill="#c0c0c0" />
<rect x="1143" y="636" width="1" height="11" fill="#c0c0c0" />
<rect x="1151" y="636" width="1" height="17" fill="#c0c0c0" />
<rect x="1159" y="636" width="1" height="21" fill="#c0c0c0" />
<rect x="1167" y="636" width="1" height="26" fill="#c0c0c0" />
<rect x="1175" y="636" width="1" height="27" fill="#c0c0c0" />
<rect x="1183" y="636" width="1" height="29" fill="#c0c0c0" />
<rect x="1191" y="636" width="1" height="32" fill="#c0c0c0" />
<rect x="1199" y="636" width="1" height="34" fill="#c0c0c0" />
<rect x="1207" y="636" width="1" height="37" fill="#c0c0c0" />
<rect x="1215" y="636" width="1" height="41" fill="#c0c0c0" />
<rect x="1223" y="636" width="1" height="43" fill="#c0c0c0" />
<rect x="1231" y="636" width="1" height="42" fill="#c0c0c0" />
<rect x="1239" y="636" width="1" height="41" fill="#c0c0c0" />
<rect x="1247" y="636" width="1" height="39" fill="#c0c0c0" />
<rect x="1255" y="636" width="1" height="34" fill="#c0c0c0" />
<rect x="1263" y="636" width="1" height="31" fill="#c0c0c0" />
<rect x="1271" y="636" width="1" height="26" fill="#c0c0c0" />
<rect x="1279" y="636" width="1" height="22" fill="#c0c0c0" />
<rect x="1287" y="636" width="1" height="19" fill="#c0c0c0" />
<rect x="1295" y="636" width="1" height="16" fill="#c0c0c0" />
<rect x="1303" y="636" width="1" height="11" fill="#c0c0c0" />
<rect x="1311" y="636" width="1" height="9" fill="#c0c0c0" />
<rect x="1319" y="636" width="1" height="7" fill="#c0c0c0" />
<rect x="1327" y="636" width="1" height="4" fill="#c0c0c0" />
<rect x="1335" y="636" width="1" height="1" fill="#c0c0c0" />
<rect x="1343" y="635" width="1" height="1" fill="#c0c0c0" />
<rect x="1351" y="633" width="1" height="3" fill="#c0c0c0" />
<rect x="1359" y="634" width="1" height="2" fill="#c0c0c0" />
<rect x="1367" y="634" width="1" height="2" fill="#c0c0c0" />
<rect x="1375" y="636" width="1" height="1" fill="#c0c0c0" />
</g>
<path d="M3 732.5h1M4 731.5h1M5 730.5h1M9 726.5h1M10 725.5h1M11 724.5h1M15 720.5h1M16 719.5h1M17 718.5h1M21 714.5h1M22 713.5h1M23 712.5h1M26 708.5h1M27 707.5h1M28 706.5h1M32 702.5h1M33 701.5h1M34 700.5h1M37 696.5h1M38 695.5h1M39 694.5h1M43 690.5h1M44 689.5h1M45 688.5h1M49 685.5h1M50 684.5h1M51 683.5h1M55 679.5h2M57 678.5h1M61 674.5h2M63 673.5h1M67 670.5h1M68 669.5h2M73 666.5h1M74 665.5h1M75 664.5h1M79 662.5h1M80 661.5h2M85 659.5h1M86 658.5h2M91 656.5h2M93 655.5h1M97 653.5h2M99 652.5h1M103 650.5h2M105 649.5h1M109 647.5h2M111 646.5h1M115 644.5h2M117 643.5h1M121 642.5h1M122 641.5h2M127 639.5h3M133 637.5h2M135 636.5h1M139 635.5h3M145 634.5h1M146 633.5h2M151 633.5h3M157 632.5h3M163 632.5h3M169 632.5h2M171 633.5h1M175 633.5h2M177 634.5h1M181 634.5h3M187 635.5h3M193 636.5h2M195 637.5h1M199 637.5h1M200 638.5h2M205 639.5h3M211 640.5h3M217 641.5h3M223 641.5h1M224 642.5h2M229 642.5h3M235 642.5h3M241 643.5h3M247 643.5h3M253 643.5h3M259 644.5h3M265 644.5h2M267 645.5h1M271 645.5h3M277 646.5h3M283 646.5h2M285 647.5h1M289 647.5h3M295 648.5h3M301 648.5h2M303 649.5h1M307 649.5h3M313 650.5h3M319 651.5h3M325 652.5h3M331 653.5h3M337 654.5h3M343 655.5h2M345 656.5h1M349 656.5h3M355 656.5h2M357 657.5h1M361 657.5h3M367 657.5h3M373 657.5h3M379 657.5h3M385 657.5h3M391 657.5h3M397 656.5h3M403 655.5h3M409 654.5h2M411 653.5h1M415 652.5h3M421 651.5h1M422 650.5h2M427 649.5h1M428 648.5h2M433 647.5h2M435 646.5h1M439 644.5h2M441 643.5h1M445 642.5h1M446 641.5h2M451 639.5h1M452 638.5h2M457 635.5h1M458 634.5h1M459 633.5h1M463 630.5h2M465 629.5h1M469 626.5h1M470 625.5h1M471 624.5h1M475 621.5h2M477 620.5h1M481 617.5h1M482 616.5h1M483 615.5h1M487 612.5h2M489 611.5h1M493 608.5h1M494 607.5h2M499 605.5h1M500 604.5h2M505 601.5h2M507 600.5h1M511 598.5h2M513 597.5h1M517 596.5h3M523 596.5h1M524 595.5h2M529 595.5h3M535 596.5h3M541 598.5h2M543 599.5h1M547 600.5h1M548 601.5h2M553 603.5h1M554 604.5h2M559 607.5h1M560 608.5h2M565 611.5h2M567 612.5h1M571 615.5h2M573 616.5h1M577 619.5h2M579 620.5h1M583 622.5h1M584 623.5h2M589 626.5h2M591 627.5h1M595 629.5h1M596 630.5h2M601 633.5h2M603 634.5h1M607 636.5h2M609 637.5h1M613 639.5h3M619 641.5h1M620 642.5h2M625 644.5h3M631 645.5h2M633 646.5h1M637 647.5h3M643 647.5h3M649 647.5h3M655 647.5h3M661 647.5h3M667 647.5h2M669 646.5h1M673 646.5h3M679 646.5h3M685 645.5h1M686 644.5h2M691 643.5h3M697 641.5h3M703 639.5h2M705 638.5h1M709 637.5h3M715 636.5h1M716 635.5h2M721 634.5h3M727 633.5h2M729 632.5h1M733 632.5h1M734 631.5h2M739 631.5h2M741 630.5h1M745 630.5h3M751 629.5h3M757 629.5h3M763 629.5h3M769 628.5h3M775 628.5h3M781 628.5h3M787 627.5h3M793 627.5h3M799 627.5h2M801 626.5h1M805 626.5h3M811 625.5h3M817 625.5h3M823 624.5h3M829 623.5h3M835 623.5h1M836 622.5h2M841 622.5h3M847 621.5h3M853 621.5h1M854 620.5h2M859 620.5h3M865 619.5h1M866 618.5h2M871 617.5h3M877 616.5h1M878 615.5h2M883 614.5h2M885 613.5h1M889 612.5h2M891 611.5h1M895 610.5h2M897 609.5h1M901 608.5h3M907 607.5h3M913 606.5h3M919 606.5h1M920 605.5h2M925 605.5h3M931 604.5h3M937 604.5h1M938 603.5h2M943 603.5h3M949 603.5h3M955 603.5h3M961 603.5h3M967 603.5h3M973 603.5h3M979 603.5h3M985 603.5h3M991 604.5h3M997 604.5h3M1003 605.5h3M1009 606.5h3M1015 607.5h3M1021 608.5h3M1027 609.5h1M1028 610.5h2M1033 611.5h3M1039 611.5h2M1041 612.5h1M1045 612.5h3M1051 612.5h3M1057 612.5h3M1063 612.5h3M1069 611.5h3M1075 611.5h3M1081 610.5h3M1087 609.5h3M1093 609.5h2M1095 608.5h1M1099 608.5h3M1105 608.5h1M1106 607.5h2M1111 607.5h3M1117 608.5h3M1123 609.5h3M1129 611.5h2M1131 612.5h1M1135 614.5h1M1136 615.5h1M1137 616.5h1M1141 618.5h1M1142 619.5h2M1147 622.5h2M1149 623.5h1M1153 626.5h1M1154 627.5h1M1155 628.5h1M1159 631.5h1M1160 632.5h1M1161 633.5h1M1165 637.5h1M1166 638.5h2M1171 641.5h1M1172 642.5h2M1177 645.5h1M1178 646.5h1M1179 647.5h1M1183 649.5h1M1184 650.5h1M1185 651.5h1M1189 653.5h2M1191 654.5h1M1195 656.5h2M1197 657.5h1M1201 659.5h1M1202 660.5h2M1207 663.5h2M1209 664.5h1M1213 666.5h2M1215 667.5h1M1219 668.5h3M1225 669.5h1M1226 670.5h2M1231 671.5h3M1237 672.5h3M1243 673.5h3M1249 674.5h3M1255 674.5h3M1261 674.5h3M1267 674.5h2M1269 673.5h1M1273 673.5h3M1279 672.5h1M1280 671.5h2M1285 669.5h3M1291 667.5h3M1297 665.5h2M1299 664.5h1M1303 663.5h1M1304 662.5h2M1309 660.5h3M1315 658.5h1M1316 657.5h2M1321 655.5h3M1327 653.5h1M1328 652.5h2M1333 650.5h1M1334 649.5h2M1339 647.5h3M1345 645.5h3M1351 643.5h3M1357 641.5h3M1363 639.5h3M1369 638.5h3M1375 637.5h3M1381 636.5h3M1387 636.5h3M1393 636.5h3M1399 636.5h3M1405 636.5h3M1411 636.5h3M1417 636.5h3M1423 636.5h3M1429 636.5h3" fill="none" stroke="#ff0000" stroke-width="1" shape-rendering="crispEdges"/>
<text x="-2.5" y="588.2" font-size="9.8" fill="#000" textLength="126" lengthAdjust="spacingAndGlyphs" >MACD(12,26,9) 0.0592 0.0266</text>
<rect x="1682" y="577" width="2" height="1" fill="#000" />
<rect x="1682" y="636" width="2" height="1" fill="#000" />
<text x="1685.5" y="586" font-size="9.8" fill="#000" textLength="27.5" lengthAdjust="spacingAndGlyphs" >1.8783</text>
<text x="1685.5" y="640" font-size="9.8" fill="#000" textLength="17.5" lengthAdjust="spacingAndGlyphs" >0.00</text>
<text x="1685.5" y="742.5" font-size="9.8" fill="#000" textLength="30.5" lengthAdjust="spacingAndGlyphs" >-3.3887</text>
<line x1="0" y1="783.5" x2="1681" y2="783.5" stroke="#b8b8b8" stroke-width="1" stroke-dasharray="3 3" stroke-dashoffset="2" shape-rendering="crispEdges"/>
<line x1="0" y1="834.5" x2="1681" y2="834.5" stroke="#b8b8b8" stroke-width="1" stroke-dasharray="3 3" stroke-dashoffset="2" shape-rendering="crispEdges"/>
<line x1="0" y1="895.5" x2="1681" y2="895.5" stroke="#b8b8b8" stroke-width="1" stroke-dasharray="3 3" stroke-dashoffset="2" shape-rendering="crispEdges"/>
<path d="M0 831.5h2M2 832.5h2M4 833.5h2M6 834.5h5M11 835.5h6M17 836.5h4M21 837.5h4M25 838.5h2M27 839.5h3M30 840.5h2M32 839.5h1M33 838.5h1M34 837.5h1M35 836.5h2M37 835.5h1M38 834.5h1M39 833.5h1M40 834.5h1M41 835.5h2M43 836.5h1M44 837.5h1M45 838.5h2M47 839.5h10M57 838.5h2M59 837.5h3M62 836.5h2M64 835.5h2M66 834.5h2M68 833.5h2M70 832.5h2M72 831.5h1M73 830.5h1M74 829.5h1M75 828.5h2M77 827.5h1M78 826.5h1M79 825.5h18M97 826.5h4M101 827.5h3M104 826.5h2M106 825.5h2M108 824.5h2M110 823.5h2M112 824.5h2M114 825.5h1M115 826.5h2M117 827.5h2M119 828.5h9M128 829.5h2M130 830.5h2M132 831.5h2M134 832.5h5M139 831.5h5M144 832.5h1M145 833.5h2M147 834.5h1M148 835.5h1M149 836.5h2M151 837.5h1M152.5 838v2M153.5 840v2M154 842.5h1M155.5 843v2M156 845.5h1M157.5 846v2M158.5 848v2M159 850.5h1M160 849.5h2M162 848.5h2M164 847.5h2M166 846.5h3M169 845.5h4M173 844.5h3M176 845.5h2M178 846.5h2M180 847.5h2M182 848.5h2M184 847.5h2M186 846.5h2M188 845.5h2M190 844.5h3M193 843.5h2M195 842.5h3M198 841.5h2M200 842.5h2M202 843.5h2M204 844.5h2M206 845.5h3M209 844.5h4M213 843.5h3M215 842.5h1M216.5 840v2M217.5 837v3M218.5 834v3M219.5 832v2M220.5 829v3M221.5 826v3M222.5 824v2M223.5 822v2M224.5 823v2M225.5 825v2M226.5 827v2M227.5 829v2M228.5 831v2M229.5 833v2M230.5 835v2M231 837.5h1M232 838.5h2M234 839.5h2M236 840.5h2M238 841.5h3M241 842.5h4M245 843.5h6M251 844.5h5M256.5 845v2M257.5 847v2M258.5 849v2M259 851.5h1M260.5 852v2M261.5 854v2M262.5 856v2M263 858.5h1M264 857.5h1M265 856.5h1M266 855.5h1M267 854.5h1M268 853.5h1M269 852.5h1M270 851.5h1M271 850.5h1M272 849.5h1M273 848.5h1M274 847.5h1M275 846.5h1M276 845.5h1M277 844.5h1M278 843.5h1M279 842.5h1M280 841.5h2M282 840.5h2M284 839.5h2M286 838.5h5M291 839.5h5M296.5 840v2M297 842.5h1M298 843.5h1M299.5 844v2M300 846.5h1M301 847.5h1M302.5 848v2M303 850.5h1M304 851.5h2M306 852.5h2M308 853.5h2M310 854.5h2M312 853.5h1M313 852.5h2M315 851.5h1M316 850.5h1M317 849.5h2M319 848.5h1M320 849.5h1M321.5 850v2M322 852.5h1M323 853.5h1M324 854.5h1M325.5 855v2M326 857.5h1M327 858.5h2M329 859.5h2M331 860.5h3M334 861.5h2M336.5 859v2M337.5 857v2M338.5 855v2M339.5 853v2M340.5 851v2M341.5 849v2M342.5 847v2M343 846.5h1M344.5 844v2M345 843.5h1M346 842.5h1M347.5 840v2M348 839.5h1M349 838.5h1M350.5 836v2M351 835.5h1M352 836.5h2M354 837.5h2M356 838.5h2M358 839.5h3M361 840.5h4M365 841.5h3M368 842.5h2M370 843.5h2M372 844.5h2M374 845.5h3M377 844.5h2M379 843.5h3M382 842.5h3M385 841.5h4M389 840.5h3M392.5 838v2M393 837.5h1M394 836.5h1M395.5 834v2M396 833.5h1M397 832.5h1M398.5 830v2M399 829.5h1M400 830.5h2M402 831.5h2M404 832.5h2M406 833.5h2M408 832.5h2M410 831.5h2M412 830.5h2M414 829.5h3M417 828.5h2M419 827.5h3M422 826.5h5M427 825.5h5M432.5 823v2M433 822.5h1M434 821.5h1M435.5 819v2M436 818.5h1M437 817.5h1M438.5 815v2M439.5 813v2M440.5 811v2M441.5 809v2M442.5 807v2M443.5 805v2M444.5 803v2M445.5 801v2M446.5 799v2M447.5 797v2M448 797.5h9M457 796.5h4M461 795.5h3M464 794.5h1M465 793.5h1M466 792.5h1M467 791.5h2M469 790.5h1M470 789.5h1M471 788.5h2M473 787.5h4M477 786.5h3M479 787.5h1M480.5 788v2M481.5 790v2M482.5 792v3M483.5 795v2M484.5 797v3M485.5 800v2M486.5 802v2M487.5 804v2M488.5 806v2M489 808.5h1M490 809.5h1M491.5 810v2M492 812.5h1M493 813.5h1M494.5 814v2M495 816.5h1M496 817.5h1M497 818.5h1M498 819.5h1M499.5 820v2M500 822.5h1M501 823.5h1M502 824.5h1M503 825.5h1M504.5 826v2M505 828.5h1M506.5 829v2M507 831.5h1M508.5 832v2M509 834.5h1M510.5 835v2M511 837.5h2M513 838.5h4M517 839.5h4M521 838.5h4M525 837.5h3M528.5 835v2M529 834.5h1M530.5 832v2M531 831.5h1M532.5 829v2M533 828.5h1M534.5 826v2M535 825.5h1M536 826.5h1M537 827.5h1M538 828.5h1M539 829.5h2M541 830.5h1M542 831.5h1M543 832.5h1M544 833.5h1M545 834.5h1M546 835.5h1M547 836.5h1M548 837.5h1M549 838.5h1M550 839.5h1M551 840.5h1M552 841.5h1M553 842.5h1M554 843.5h1M555 844.5h1M556 845.5h1M557 846.5h1M558 847.5h1M559 848.5h1M560 849.5h2M562 850.5h2M564 851.5h2M566 852.5h5M571 853.5h5M576.5 851v2M577.5 849v2M578.5 847v2M579 846.5h1M580.5 844v2M581.5 842v2M582.5 840v2M583 839.5h2M585 840.5h2M587 841.5h3M590 842.5h3M593 843.5h2M595 844.5h3M598 845.5h3M601 844.5h2M603 843.5h3M606 842.5h2M608 843.5h1M609 844.5h2M611 845.5h1M612 846.5h1M613 847.5h2M615 848.5h10M625 847.5h4M629 846.5h3M632.5 844v2M633 843.5h1M634.5 841v2M635 840.5h1M636.5 838v2M637 837.5h1M638.5 835v2M639 834.5h4M643 833.5h6M649 832.5h4M653 831.5h6M659 830.5h8M667 829.5h6M673 830.5h4M677 831.5h3M680 830.5h1M681 829.5h1M682 828.5h1M683.5 826v2M684 825.5h1M685 824.5h1M686 823.5h1M687 822.5h1M688 821.5h2M690 820.5h2M692 819.5h2M694 818.5h3M697 819.5h4M701 820.5h4M705 821.5h4M709 822.5h6M715 823.5h5M720 824.5h2M722 825.5h1M723 826.5h2M725 827.5h2M727 828.5h2M729 827.5h4M733 826.5h4M737 827.5h2M739 828.5h3M742 829.5h3M745 828.5h4M749 827.5h3M752 828.5h1M753 829.5h2M755 830.5h1M756 831.5h1M757 832.5h2M759 833.5h1M760 832.5h2M762 831.5h2M764 830.5h2M766 829.5h2M768.5 827v2M769.5 825v2M770.5 823v2M771 822.5h1M772.5 820v2M773.5 818v2M774.5 816v2M775 815.5h1M776 814.5h2M778 813.5h2M780 812.5h2M782 811.5h2M784 810.5h2M786 809.5h2M788 808.5h2M790 807.5h2M792 808.5h1M793 809.5h1M794 810.5h1M795 811.5h1M796 812.5h1M797 813.5h1M798 814.5h1M799 815.5h1M800 816.5h1M801 817.5h1M802 818.5h1M803.5 819v2M804 821.5h1M805 822.5h1M806 823.5h1M807 824.5h2M809 823.5h4M813 822.5h6M819 821.5h6M825 820.5h4M829 819.5h3M832 818.5h1M833 817.5h2M835 816.5h1M836 815.5h1M837 814.5h2M839 813.5h1M840.5 811v2M841 810.5h1M842 809.5h1M843.5 807v2M844 806.5h1M845 805.5h1M846.5 803v2M847 802.5h1M848 801.5h1M849.5 799v2M850 798.5h1M851 797.5h1M852 796.5h1M853.5 794v2M854 793.5h1M855 792.5h2M857 791.5h4M861 790.5h11M872.5 791v2M873 793.5h1M874 794.5h1M875.5 795v2M876 797.5h1M877 798.5h1M878.5 799v2M879 801.5h1M880 800.5h2M882 799.5h2M884 798.5h2M886 797.5h5M891 796.5h5M896 797.5h1M897.5 798v2M898 800.5h1M899 801.5h1M900 802.5h1M901.5 803v2M902 805.5h1M903 806.5h2M905 807.5h2M907 808.5h3M910 809.5h2M912 808.5h2M914 807.5h1M915 806.5h2M917 805.5h2M919 804.5h1M920 803.5h2M922 802.5h2M924 801.5h2M926 800.5h2M928 799.5h2M930 798.5h2M932 797.5h2M934 796.5h2M936 795.5h2M938 794.5h2M940 793.5h2M942 792.5h2M944 793.5h1M945 794.5h1M946 795.5h1M947.5 796v2M948 798.5h1M949 799.5h1M950 800.5h1M951 801.5h2M953 800.5h2M955 799.5h3M958 798.5h2M960.5 799v2M961.5 801v2M962.5 803v2M963.5 805v2M964.5 807v2M965.5 809v2M966.5 811v2M967.5 813v2M968 813.5h1M969 812.5h2M971 811.5h1M972 810.5h1M973 809.5h2M975 808.5h1M976 809.5h1M977 810.5h1M978 811.5h1M979 812.5h1M980 813.5h1M981 814.5h1M982 815.5h1M983 816.5h1M984 815.5h1M985 814.5h2M987 813.5h1M988 812.5h1M989 811.5h2M991.5 810v2M992.5 812v2M993.5 814v2M994.5 816v2M995.5 818v3M996.5 821v2M997.5 823v2M998.5 825v2M999.5 827v2M1000 828.5h3M1003 827.5h8M1011 828.5h5M1016.5 826v2M1017.5 824v2M1018.5 822v2M1019.5 820v2M1020.5 818v2M1021.5 816v2M1022.5 814v2M1023.5 812v2M1024 812.5h8M1032 811.5h1M1033 810.5h1M1034 809.5h1M1035 808.5h1M1036 807.5h1M1037 806.5h1M1038 805.5h1M1039 804.5h2M1041 805.5h4M1045 806.5h4M1049 805.5h4M1053 804.5h3M1056 803.5h1M1057 802.5h2M1059 801.5h1M1060 800.5h1M1061 799.5h2M1063 798.5h2M1065 797.5h4M1069 796.5h4M1073 797.5h4M1077 798.5h3M1079 799.5h1M1080.5 800v2M1081.5 802v3M1082.5 805v2M1083.5 807v3M1084.5 810v2M1085.5 812v3M1086.5 815v2M1087.5 817v2M1088 817.5h2M1090 816.5h1M1091 815.5h2M1093 814.5h2M1095 813.5h1M1096 814.5h1M1097 815.5h2M1099 816.5h1M1100 817.5h1M1101 818.5h2M1103 819.5h1M1104.5 820v2M1105.5 822v2M1106.5 824v2M1107 826.5h1M1108.5 827v2M1109.5 829v2M1110.5 831v2M1111.5 833v2M1112.5 835v3M1113.5 838v3M1114.5 841v3M1115.5 844v4M1116.5 848v3M1117.5 851v3M1118.5 854v3M1119.5 857v2M1120 857.5h1M1121 856.5h1M1122 855.5h1M1123.5 853v2M1124 852.5h1M1125 851.5h1M1126 850.5h1M1127 849.5h1M1128.5 850v2M1129.5 852v2M1130.5 854v2M1131.5 856v2M1132.5 858v2M1133.5 860v2M1134.5 862v2M1135 864.5h4M1139 865.5h6M1145 864.5h2M1147 863.5h3M1150 862.5h5M1155 863.5h13M1168 862.5h2M1170 861.5h1M1171 860.5h2M1173 859.5h2M1175 858.5h2M1177 859.5h2M1179 860.5h3M1182 861.5h2M1184 862.5h1M1185 863.5h2M1187 864.5h1M1188 865.5h1M1189 866.5h2M1191 867.5h2M1193 866.5h4M1197 865.5h3M1200 866.5h1M1201 867.5h1M1202 868.5h1M1203 869.5h2M1205 870.5h1M1206 871.5h1M1207 872.5h2M1209 873.5h4M1213 874.5h11M1224.5 872v2M1225 871.5h1M1226 870.5h1M1227.5 868v2M1228 867.5h1M1229 866.5h1M1230.5 864v2M1231 863.5h4M1235 864.5h5M1240 863.5h1M1241 862.5h2M1243 861.5h1M1244 860.5h1M1245 859.5h2M1247 858.5h1M1248.5 856v2M1249.5 854v2M1250.5 852v2M1251 851.5h1M1252.5 849v2M1253.5 847v2M1254.5 845v2M1255 844.5h2M1257 843.5h2M1259 842.5h3M1262 841.5h2M1264 840.5h2M1266 839.5h2M1268 838.5h2M1270 837.5h3M1273 838.5h4M1277 839.5h3M1280 838.5h2M1282 837.5h2M1284 836.5h2M1286 835.5h3M1289 834.5h4M1293 833.5h3M1296.5 831v2M1297 830.5h1M1298 829.5h1M1299.5 827v2M1300 826.5h1M1301 825.5h1M1302.5 823v2M1303 822.5h1M1304.5 823v2M1305.5 825v2M1306.5 827v2M1307.5 829v2M1308.5 831v2M1309.5 833v2M1310.5 835v2M1311.5 837v2M1312 837.5h1M1313 836.5h1M1314 835.5h1M1315.5 833v2M1316 832.5h1M1317 831.5h1M1318 830.5h1M1319 829.5h1M1320 828.5h2M1322 827.5h2M1324 826.5h2M1326 825.5h2M1328 824.5h2M1330 823.5h1M1331 822.5h2M1333 821.5h2M1335 820.5h4M1339 821.5h13M1351 822.5h1M1352.5 823v2M1353.5 825v2M1354.5 827v2M1355.5 829v2M1356.5 831v2M1357.5 833v2M1358.5 835v2M1359.5 837v2M1360 837.5h2M1362 836.5h2M1364 835.5h2M1366 834.5h2M1368 835.5h1M1369 836.5h1M1370 837.5h1M1371.5 838v2M1372 840.5h1M1373 841.5h1M1374 842.5h1M1375 843.5h1M1376 842.5h2M1378 841.5h2M1380 840.5h2M1382 839.5h10M1392 838.5h2M1394 837.5h2M1396 836.5h2M1398 835.5h5M1403 834.5h5M1408.5 832v2M1409 831.5h1M1410 830.5h1M1411.5 828v2M1412 827.5h1M1413 826.5h1M1414.5 824v2M1415 823.5h1M1416 824.5h2M1418 825.5h2M1420 826.5h2M1422 827.5h2M1424 828.5h1M1425.5 829v2M1426 831.5h1M1427 832.5h1M1428 833.5h1M1429.5 834v2M1430 836.5h1M1431 837.5h1" fill="none" stroke="#1e90ff" stroke-width="1" shape-rendering="crispEdges"/>
<text x="-5" y="759.8" font-size="9.8" fill="#000" textLength="68" lengthAdjust="spacingAndGlyphs" >RSI(14) 48.5606</text>
<text x="1685" y="757.8" font-size="9.8" fill="#000" textLength="14.5" lengthAdjust="spacingAndGlyphs" >100</text>
<text x="1685" y="786.8" font-size="9.8" fill="#000" textLength="9.5" lengthAdjust="spacingAndGlyphs" >80</text>
<text x="1685" y="837.8" font-size="9.8" fill="#000" textLength="9.5" lengthAdjust="spacingAndGlyphs" >50</text>
<text x="1685" y="898.8" font-size="9.8" fill="#000" textLength="9.5" lengthAdjust="spacingAndGlyphs" >15</text>
<text x="1685" y="917.8" font-size="9.8" fill="#000" textLength="4.8" lengthAdjust="spacingAndGlyphs" >0</text>
<rect x="1682" y="920" width="2" height="1" fill="#000" />
<rect x="-9" y="921" width="1" height="4" fill="#000" />
<text x="-10" y="933.7" font-size="9.8" fill="#000" textLength="52.8" lengthAdjust="spacingAndGlyphs" >26 Mar 2020</text>
<rect x="55" y="921" width="1" height="4" fill="#000" />
<text x="54" y="933.7" font-size="9.8" fill="#000" textLength="46.0" lengthAdjust="spacingAndGlyphs" >5 Apr 2020</text>
<rect x="119" y="921" width="1" height="4" fill="#000" />
<text x="118" y="933.7" font-size="9.8" fill="#000" textLength="51.2" lengthAdjust="spacingAndGlyphs" >15 Apr 2020</text>
<rect x="183" y="921" width="1" height="4" fill="#000" />
<text x="182" y="933.7" font-size="9.8" fill="#000" textLength="51.2" lengthAdjust="spacingAndGlyphs" >24 Apr 2020</text>
<rect x="247" y="921" width="1" height="4" fill="#000" />
<text x="246" y="933.7" font-size="9.8" fill="#000" textLength="49.1" lengthAdjust="spacingAndGlyphs" >4 May 2020</text>
<rect x="311" y="921" width="1" height="4" fill="#000" />
<text x="310" y="933.7" font-size="9.8" fill="#000" textLength="54.3" lengthAdjust="spacingAndGlyphs" >13 May 2020</text>
<rect x="375" y="921" width="1" height="4" fill="#000" />
<text x="374" y="933.7" font-size="9.8" fill="#000" textLength="54.3" lengthAdjust="spacingAndGlyphs" >22 May 2020</text>
<rect x="439" y="921" width="1" height="4" fill="#000" />
<text x="438" y="933.7" font-size="9.8" fill="#000" textLength="46.5" lengthAdjust="spacingAndGlyphs" >1 Jun 2020</text>
<rect x="503" y="921" width="1" height="4" fill="#000" />
<text x="502" y="933.7" font-size="9.8" fill="#000" textLength="51.7" lengthAdjust="spacingAndGlyphs" >10 Jun 2020</text>
<rect x="567" y="921" width="1" height="4" fill="#000" />
<text x="566" y="933.7" font-size="9.8" fill="#000" textLength="51.7" lengthAdjust="spacingAndGlyphs" >19 Jun 2020</text>
<rect x="631" y="921" width="1" height="4" fill="#000" />
<text x="630" y="933.7" font-size="9.8" fill="#000" textLength="51.7" lengthAdjust="spacingAndGlyphs" >29 Jun 2020</text>
<rect x="695" y="921" width="1" height="4" fill="#000" />
<text x="694" y="933.7" font-size="9.8" fill="#000" textLength="43.4" lengthAdjust="spacingAndGlyphs" >8 Jul 2020</text>
<rect x="759" y="921" width="1" height="4" fill="#000" />
<text x="758" y="933.7" font-size="9.8" fill="#000" textLength="48.6" lengthAdjust="spacingAndGlyphs" >17 Jul 2020</text>
<rect x="823" y="921" width="1" height="4" fill="#000" />
<text x="822" y="933.7" font-size="9.8" fill="#000" textLength="48.6" lengthAdjust="spacingAndGlyphs" >27 Jul 2020</text>
<rect x="887" y="921" width="1" height="4" fill="#000" />
<text x="886" y="933.7" font-size="9.8" fill="#000" textLength="48.1" lengthAdjust="spacingAndGlyphs" >5 Aug 2020</text>
<rect x="951" y="921" width="1" height="4" fill="#000" />
<text x="950" y="933.7" font-size="9.8" fill="#000" textLength="53.3" lengthAdjust="spacingAndGlyphs" >14 Aug 2020</text>
<rect x="1015" y="921" width="1" height="4" fill="#000" />
<text x="1014" y="933.7" font-size="9.8" fill="#000" textLength="53.3" lengthAdjust="spacingAndGlyphs" >24 Aug 2020</text>
<rect x="1079" y="921" width="1" height="4" fill="#000" />
<text x="1078" y="933.7" font-size="9.8" fill="#000" textLength="48.1" lengthAdjust="spacingAndGlyphs" >2 Sep 2020</text>
<rect x="1143" y="921" width="1" height="4" fill="#000" />
<text x="1142" y="933.7" font-size="9.8" fill="#000" textLength="53.3" lengthAdjust="spacingAndGlyphs" >11 Sep 2020</text>
<rect x="1207" y="921" width="1" height="4" fill="#000" />
<text x="1206" y="933.7" font-size="9.8" fill="#000" textLength="53.3" lengthAdjust="spacingAndGlyphs" >21 Sep 2020</text>
<rect x="1271" y="921" width="1" height="4" fill="#000" />
<text x="1270" y="933.7" font-size="9.8" fill="#000" textLength="53.3" lengthAdjust="spacingAndGlyphs" >30 Sep 2020</text>
<rect x="1335" y="921" width="1" height="4" fill="#000" />
<text x="1334" y="933.7" font-size="9.8" fill="#000" textLength="46.0" lengthAdjust="spacingAndGlyphs" >9 Oct 2020</text>
<rect x="1399" y="921" width="1" height="4" fill="#000" />
<text x="1398" y="933.7" font-size="9.8" fill="#000" textLength="51.2" lengthAdjust="spacingAndGlyphs" >19 Oct 2020</text>
<g clip-path="url(#ctb)">
<rect x="-6.5" y="-3.5" width="10" height="13" fill="#fff" stroke="#4a78c8" stroke-width="1"/>
<rect x="0" y="1" width="3" height="1" fill="#c4d6f2"/>
<rect x="0" y="3" width="3" height="1" fill="#c4d6f2"/>
<rect x="0" y="5" width="3" height="1" fill="#c4d6f2"/>
<rect x="0" y="7" width="3" height="1" fill="#c4d6f2"/>
<rect x="17.5" y="-3.5" width="10" height="12" fill="#fff" stroke="#b0b0b0"/>
<circle cx="24.5" cy="4" r="5" fill="#cfe2f5" stroke="#8ab0de" stroke-width="1.2"/>
<rect x="22" y="1" width="3" height="5" fill="#a0a8b8"/>
<line x1="28.5" y1="8" x2="34" y2="13" stroke="#c8a030" stroke-width="2.2"/>
<rect x="42" y="0" width="1" height="14" fill="#a8a8a8"/>
<rect x="52.5" y="-3.5" width="11" height="12.5" fill="#fff" stroke="#9a9a9a"/>
<rect x="55" y="2" width="6" height="1" fill="#9a9a9a"/><rect x="55" y="4" width="6" height="1" fill="#9a9a9a"/>
<path d="M60,2 h4 v4 h4 v4 h-4 v4 h-4 v-4 h-4 v-4 h4 z" fill="#22cc22" stroke="#0a8a0a" stroke-width="0.8"/>
<text x="70" y="7.2" font-size="12.3" fill="#000" textLength="37.2" lengthAdjust="spacing" font-family="'Liberation Sans','Noto Sans CJK SC',sans-serif">新订单</text>
<polygon points="119,4 128,-3 136,4.5 127,12" fill="#e8b830" stroke="#a87810" stroke-width="1"/>
<polygon points="119,4 127,12 127.5,13 119,5.5" fill="#a87810"/>
<rect x="150.5" y="-3.5" width="10" height="8" fill="#3a8ae8" stroke="#2060c0"/>
<rect x="154" y="-2" width="3" height="6" fill="#fff"/>
<path d="M150.5,11.5 a3.3,3.3 0 0 1 0.5,-7 a4,4 0 0 1 7,-0.5 a3.5,3.5 0 0 1 5,2.5 a2.6,2.6 0 0 1 -0.5,5 z" fill="#e8f0fa" stroke="#7090c8" stroke-width="1"/>
<circle cx="183" cy="4" r="7" fill="none" stroke="#90b0e0" stroke-width="1.2"/>
<circle cx="183" cy="4" r="4.2" fill="none" stroke="#5080d0" stroke-width="1.2"/>
<path d="M183,-4 a8,8 0 0 1 0,16 z" fill="#8cc890" opacity="0.85"/>
<circle cx="183" cy="4" r="1.6" fill="#2858c8"/>
<rect x="182.5" y="4" width="1.4" height="8" fill="#20a030"/>
<ellipse cx="210" cy="0" rx="8" ry="3" fill="#58a8e0" stroke="#3080c0"/>
<path d="M202,1 L218,1 L216,8 L210,11.5 L204,6 z" fill="#f0c830" stroke="#c89810" stroke-width="0.8"/>
<circle cx="214.5" cy="8" r="4.2" fill="#d82010"/>
<rect x="212.8" y="6.3" width="3.4" height="3.4" fill="#fff"/>
<text x="223.5" y="7.2" font-size="12.3" fill="#000" textLength="48" lengthAdjust="spacing" font-family="'Liberation Sans','Noto Sans CJK SC',sans-serif">自动交易</text>
<rect x="278" y="0" width="1" height="16" fill="#a8a8a8"/>
<rect x="281" y="0" width="3" height="1" fill="#b0b0b0"/>
<rect x="281" y="2" width="3" height="1" fill="#b0b0b0"/>
<rect x="281" y="4" width="3" height="1" fill="#b0b0b0"/>
<rect x="281" y="6" width="3" height="1" fill="#b0b0b0"/>
<rect x="281" y="8" width="3" height="1" fill="#b0b0b0"/>
<rect x="281" y="10" width="3" height="1" fill="#b0b0b0"/>
<rect x="281" y="12" width="3" height="1" fill="#b0b0b0"/>
<rect x="296" y="0" width="1" height="12" fill="#4a4a4a"/>
<rect x="294" y="9" width="13" height="1" fill="#4a4a4a"/>
<polygon points="306,8 308.5,9.5 306,11" fill="#4a4a4a"/>
<path d="M300,7.5 h2.5 v-6.5 h3" fill="none" stroke="#10a020" stroke-width="1.4"/>
<rect x="316" y="0" width="1" height="14" fill="#a8a8a8"/>
<rect x="317" y="0" width="24" height="14" fill="#f8f8f8"/>
<rect x="324" y="0" width="1" height="12" fill="#4a4a4a"/>
<rect x="322" y="9" width="13" height="1" fill="#4a4a4a"/>
<polygon points="334,8 336.5,9.5 334,11" fill="#4a4a4a"/>
<rect x="328" y="-2" width="5" height="8" fill="#20c030" stroke="#108a18" stroke-width="0.8"/>
<rect x="330" y="6" width="1" height="3" fill="#108a18"/>
<rect x="352" y="0" width="1" height="12" fill="#4a4a4a"/>
<rect x="350" y="9" width="13" height="1" fill="#4a4a4a"/>
<polygon points="362,8 364.5,9.5 362,11" fill="#4a4a4a"/>
<path d="M351,7.5 C354,5 355,1 358,1 C360,1 361,4 363,5.5" fill="none" stroke="#10a020" stroke-width="1.3"/>
<rect x="373" y="0" width="1" height="14" fill="#a8a8a8"/>
<line x1="392" y1="6" x2="397.5" y2="11.5" stroke="#c8a028" stroke-width="2.6"/>
<circle cx="388" cy="1.5" r="5.4" fill="#d4e6f8" stroke="#3878c8" stroke-width="1.3"/>
<rect x="385" y="1" width="6" height="1.4" fill="#3070c0"/>
<rect x="387.3" y="-2" width="1.4" height="6" fill="#3070c0"/>
<line x1="420" y1="6" x2="425.5" y2="11.5" stroke="#c8a028" stroke-width="2.6"/>
<circle cx="416" cy="1.5" r="5.4" fill="#d4e6f8" stroke="#3878c8" stroke-width="1.3"/>
<rect x="413" y="1" width="6" height="1.4" fill="#3070c0"/>
<rect x="438" y="-3" width="7.5" height="6.5" fill="#58b828"/><rect x="447" y="-3" width="7.5" height="6.5" fill="#3868e0"/>
<rect x="438" y="5" width="7.5" height="6.5" fill="#3868e0"/><rect x="447" y="5" width="7.5" height="6.5" fill="#58b828"/>
<rect x="440" y="8" width="3.5" height="1" fill="#e8f0ff"/><rect x="449" y="8" width="3.5" height="1" fill="#e8ffe0"/><rect x="440" y="1" width="3.5" height="1" fill="#e8ffe0"/><rect x="449" y="1" width="3.5" height="1" fill="#e8f0ff"/>
<rect x="463" y="0" width="1" height="14" fill="#a8a8a8"/>
<rect x="468" y="0" width="1" height="14" fill="#a8a8a8"/>
<rect x="469" y="0" width="24" height="14" fill="#f8f8f8"/>
<rect x="476" y="0" width="1" height="12" fill="#4a4a4a"/>
<rect x="474" y="9" width="13" height="1" fill="#4a4a4a"/>
<polygon points="486,8 488.5,9.5 486,11" fill="#4a4a4a"/>
<polygon points="481,-1 481,6.5 485.5,3" fill="#60d060" stroke="#18a020" stroke-width="0.9"/>
<rect x="496" y="0" width="1" height="14" fill="#a8a8a8"/>
<rect x="497" y="0" width="24" height="14" fill="#f8f8f8"/>
<rect x="504" y="0" width="1" height="12" fill="#4a4a4a"/>
<rect x="502" y="9" width="13" height="1" fill="#4a4a4a"/>
<polygon points="514,8 516.5,9.5 514,11" fill="#4a4a4a"/>
<rect x="510" y="0" width="1" height="9" fill="#2070c0"/>
<polygon points="511.5,3.5 515.5,1 514.5,3.5 515.5,6" fill="#d83810"/>
<rect x="525" y="0" width="1" height="14" fill="#a8a8a8"/>
<rect x="535.5" y="-3.5" width="11" height="12.5" fill="#fff" stroke="#9a9a9a"/>
<path d="M543.5,2 h4 v4 h4 v4 h-4 v4 h-4 v-4 h-4 v-4 h4 z" fill="#22cc22" stroke="#0a8a0a" stroke-width="0.8"/>
<polygon points="556.5,2.5 562.5,2.5 559.5,6" fill="#000"/>
<circle cx="581" cy="4" r="6.6" fill="#e8ecf4" stroke="#2060c8" stroke-width="2.8"/>
<path d="M581,0 v4.5 h2.5" fill="none" stroke="#404040" stroke-width="1"/>
<polygon points="595.5,2.5 601.5,2.5 598.5,6" fill="#000"/>
<rect x="612.5" y="-3.5" width="15.5" height="14" fill="#fff" stroke="#3878c8" stroke-width="1.2"/>
<rect x="613" y="4.6" width="15" height="1" fill="#3878c8"/>
<path d="M615,3 l2.5,-1.2 l2.5,0.2 l2,-1.2 l2,0.8 l2,-1" fill="none" stroke="#a02010" stroke-width="1.2"/>
<path d="M615,8.5 l2.5,-1 l2.5,1 l2.5,-2 l2,1.2 l1,0.8" fill="none" stroke="#10a020" stroke-width="1.2"/>
<polygon points="634.5,2.5 640.5,2.5 637.5,6" fill="#000"/>
<rect x="646" y="0" width="1" height="16" fill="#a8a8a8"/>
<rect x="650" y="0" width="3" height="1" fill="#b0b0b0"/>
<rect x="650" y="2" width="3" height="1" fill="#b0b0b0"/>
<rect x="650" y="4" width="3" height="1" fill="#b0b0b0"/>
<rect x="650" y="6" width="3" height="1" fill="#b0b0b0"/>
<rect x="650" y="8" width="3" height="1" fill="#b0b0b0"/>
<rect x="650" y="10" width="3" height="1" fill="#b0b0b0"/>
<rect x="650" y="12" width="3" height="1" fill="#b0b0b0"/>
<rect x="656" y="0" width="1" height="14" fill="#a8a8a8"/>
<rect x="657" y="0" width="24" height="14" fill="#f8f8f8"/>
<path d="M664,-3 L664,8 L667,5.5 L669.5,11 L671.5,10 L669.2,4.8 L673,4.5 z" fill="#4a4a4a"/>
<rect x="689" y="4" width="6" height="1" fill="#4a4a4a"/><rect x="698" y="4" width="6" height="1" fill="#4a4a4a"/><rect x="696" y="0" width="1" height="3" fill="#4a4a4a"/><rect x="696" y="6" width="1" height="6" fill="#4a4a4a"/><rect x="696" y="4" width="1" height="1" fill="#4a4a4a"/>
<rect x="713" y="0" width="1" height="14" fill="#a8a8a8"/>
<rect x="730" y="0" width="1" height="11" fill="#4a4a4a"/>
<rect x="753" y="4" width="12" height="1" fill="#4a4a4a"/>
<line x1="781" y1="11" x2="792.5" y2="-0.5" stroke="#4a4a4a" stroke-width="1"/>
<line x1="807" y1="8" x2="815" y2="-1" stroke="#4a4a4a" stroke-width="1"/>
<line x1="810.5" y1="8" x2="818.5" y2="-1" stroke="#4a4a4a" stroke-width="1"/>
<line x1="814" y1="8" x2="822" y2="-1" stroke="#4a4a4a" stroke-width="1"/>
<line x1="806" y1="5" x2="820" y2="1" stroke="#4a4a4a" stroke-width="0.8"/><line x1="807" y1="8" x2="820" y2="4" stroke="#4a4a4a" stroke-width="0.8"/>
<text x="817.5" y="12.3" font-size="6.5" font-weight="bold" fill="#4a4a4a">E</text>
<rect x="836" y="0" width="1" height="1" fill="#4a4a4a"/>
<rect x="838" y="0" width="1" height="1" fill="#4a4a4a"/>
<rect x="840" y="0" width="1" height="1" fill="#4a4a4a"/>
<rect x="842" y="0" width="1" height="1" fill="#4a4a4a"/>
<rect x="844" y="0" width="1" height="1" fill="#4a4a4a"/>
<rect x="846" y="0" width="1" height="1" fill="#4a4a4a"/>
<rect x="848" y="0" width="1" height="1" fill="#4a4a4a"/>
<rect x="836" y="4" width="1" height="1" fill="#4a4a4a"/>
<rect x="838" y="4" width="1" height="1" fill="#4a4a4a"/>
<rect x="840" y="4" width="1" height="1" fill="#4a4a4a"/>
<rect x="842" y="4" width="1" height="1" fill="#4a4a4a"/>
<rect x="844" y="4" width="1" height="1" fill="#4a4a4a"/>
<rect x="846" y="4" width="1" height="1" fill="#4a4a4a"/>
<rect x="848" y="4" width="1" height="1" fill="#4a4a4a"/>
<rect x="836" y="8" width="1" height="1" fill="#4a4a4a"/>
<rect x="838" y="8" width="1" height="1" fill="#4a4a4a"/>
<rect x="840" y="8" width="1" height="1" fill="#4a4a4a"/>
<rect x="842" y="8" width="1" height="1" fill="#4a4a4a"/>
<rect x="844" y="8" width="1" height="1" fill="#4a4a4a"/>
<text x="846" y="12.3" font-size="6.5" font-weight="bold" fill="#4a4a4a">F</text>
<text x="866" y="8.8" font-size="13.5" fill="#4a4a4a" textLength="9" lengthAdjust="spacingAndGlyphs">A</text>
<rect x="893.5" y="-0.5" width="11" height="11" fill="none" stroke="#4a4a4a" stroke-width="1" stroke-dasharray="1 1"/>
<text x="895" y="8.6" font-size="11" fill="#4a4a4a" textLength="8" lengthAdjust="spacingAndGlyphs">T</text>
<polygon points="921,1 924,-2 927,1 924,3" fill="#4a4a4a"/><polygon points="927,8 931,5 935,8 931,11" fill="#4a4a4a"/>
<path d="M922.5,5 l2.5,2.5 l4.5,-5.5" fill="none" stroke="#4a4a4a" stroke-width="1.3"/>
<polygon points="940.5,2.5 946.5,2.5 943.5,6" fill="#000"/>
<rect x="952" y="0" width="1" height="16" fill="#a8a8a8"/>
<rect x="956" y="0" width="3" height="1" fill="#b0b0b0"/>
<rect x="956" y="2" width="3" height="1" fill="#b0b0b0"/>
<rect x="956" y="4" width="3" height="1" fill="#b0b0b0"/>
<rect x="956" y="6" width="3" height="1" fill="#b0b0b0"/>
<rect x="956" y="8" width="3" height="1" fill="#b0b0b0"/>
<rect x="956" y="10" width="3" height="1" fill="#b0b0b0"/>
<rect x="956" y="12" width="3" height="1" fill="#b0b0b0"/>
<rect x="1131" y="0" width="24" height="14" fill="#f8f8f8"/>
<rect x="1131" y="0" width="1" height="14" fill="#c0c0c0"/>
<text x="967.5" y="7.8" font-size="9.2" fill="#4a4a4a" textLength="12.5" lengthAdjust="spacingAndGlyphs">M1</text>
<text x="995.5" y="7.8" font-size="9.2" fill="#4a4a4a" textLength="12.5" lengthAdjust="spacingAndGlyphs">M5</text>
<text x="1021.3" y="7.8" font-size="9.2" fill="#4a4a4a" textLength="17.5" lengthAdjust="spacingAndGlyphs">M15</text>
<text x="1049.7" y="7.8" font-size="9.2" fill="#4a4a4a" textLength="17.5" lengthAdjust="spacingAndGlyphs">M30</text>
<text x="1080.6" y="7.8" font-size="9.2" fill="#4a4a4a" textLength="11.5" lengthAdjust="spacingAndGlyphs">H1</text>
<text x="1107.5" y="7.8" font-size="9.2" fill="#4a4a4a" textLength="12" lengthAdjust="spacingAndGlyphs">H4</text>
<text x="1137.2" y="7.8" font-size="9.2" fill="#4a4a4a" textLength="11.5" lengthAdjust="spacingAndGlyphs">D1</text>
<text x="1164" y="7.8" font-size="9.2" fill="#4a4a4a" textLength="13.5" lengthAdjust="spacingAndGlyphs">W1</text>
<text x="1190.2" y="7.8" font-size="9.2" fill="#4a4a4a" textLength="15.5" lengthAdjust="spacingAndGlyphs">MN</text>
<rect x="1213" y="0" width="1" height="14" fill="#a8a8a8"/>
<line x1="1680.3" y1="4.6" x2="1676.3" y2="8.6" stroke="#2464d8" stroke-width="2.4" stroke-linecap="round"/>
<circle cx="1683.6" cy="1.4" r="3.9" fill="#f4f4f8" stroke="#2464d8" stroke-width="1.3"/>
<path d="M1716,7 l3.6,1 l-0.8,-2.5" fill="#888" stroke="#707070" stroke-width="0.8"/>
<ellipse cx="1717" cy="1.6" rx="5.6" ry="4.6" fill="#e4e4ea" stroke="#808080" stroke-width="1"/>
<path d="M1705.3,8 l-1,2.6 l3.2,-1.8" fill="#888" stroke="#707070" stroke-width="0.8"/>
<ellipse cx="1707.4" cy="5.2" rx="5.2" ry="3.8" fill="#f6f6f8" stroke="#707070" stroke-width="1"/>
</g>
</svg>

</body></html>
